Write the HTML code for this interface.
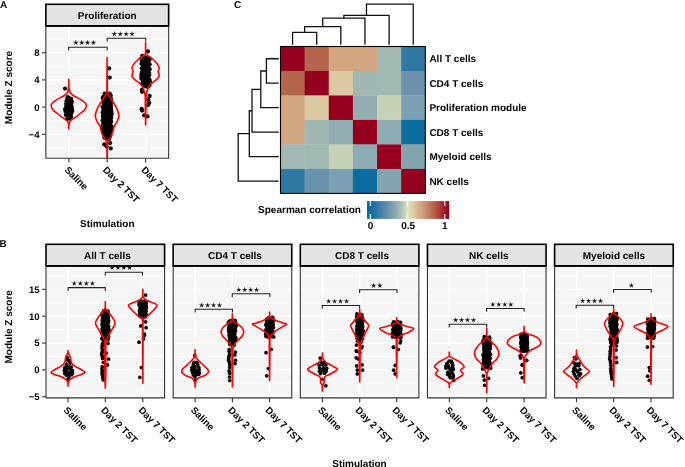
<!DOCTYPE html>
<html><head><meta charset="utf-8"><style>
html,body{margin:0;padding:0;background:#fff;width:685px;height:467px;overflow:hidden;}
svg{display:block;font-family:"Liberation Sans", sans-serif;will-change:transform;text-rendering:geometricPrecision;}
</style></head><body>
<svg width="685" height="467" viewBox="0 0 685 467" font-family='"Liberation Sans", sans-serif'>
<rect width="685" height="467" fill="#fff"/>
<text x="0" y="7.5" font-size="10" font-weight="bold" text-anchor="start" fill="#000">A</text>
<text x="-0.6" y="247" font-size="10" font-weight="bold" text-anchor="start" fill="#000">B</text>
<text x="234.1" y="7.6" font-size="10" font-weight="bold" text-anchor="start" fill="#000">C</text>
<rect x="45.85" y="25.9" width="122.8" height="132.4" fill="#F5F5F5"/>
<clipPath id="clipA"><rect x="45.85" y="25.9" width="122.8" height="132.4"/></clipPath>
<line x1="45.85" x2="168.65" y1="39.1" y2="39.1" stroke="#fff" stroke-width="0.6"/>
<line x1="45.85" x2="168.65" y1="66.3" y2="66.3" stroke="#fff" stroke-width="0.6"/>
<line x1="45.85" x2="168.65" y1="93.5" y2="93.5" stroke="#fff" stroke-width="0.6"/>
<line x1="45.85" x2="168.65" y1="120.7" y2="120.7" stroke="#fff" stroke-width="0.6"/>
<line x1="45.85" x2="168.65" y1="147.9" y2="147.9" stroke="#fff" stroke-width="0.6"/>
<line x1="45.85" x2="168.65" y1="52.7" y2="52.7" stroke="#fff" stroke-width="1.3"/>
<line x1="45.85" x2="168.65" y1="79.9" y2="79.9" stroke="#fff" stroke-width="1.3"/>
<line x1="45.85" x2="168.65" y1="107.1" y2="107.1" stroke="#fff" stroke-width="1.3"/>
<line x1="45.85" x2="168.65" y1="134.3" y2="134.3" stroke="#fff" stroke-width="1.3"/>
<line x1="68.9" x2="68.9" y1="25.9" y2="158.3" stroke="#fff" stroke-width="1.3"/>
<line x1="107.2" x2="107.2" y1="25.9" y2="158.3" stroke="#fff" stroke-width="1.3"/>
<line x1="145.6" x2="145.6" y1="25.9" y2="158.3" stroke="#fff" stroke-width="1.3"/>
<rect x="45.85" y="4.3" width="122.8" height="21.6" fill="#E3E3E3" stroke="#000" stroke-width="1.6"/>
<text x="107.25" y="18.75" font-size="10" font-weight="bold" text-anchor="middle" fill="#000">Proliferation</text>
<path d="M68.6,50.6 V47.3 H107.2 V50.6" fill="none" stroke="#222" stroke-width="1.1" clip-path="url(#clipA)"/>
<path d="M75.83,39.78 L76.41,41.87 L78.58,41.78 L76.78,42.99 L77.53,45.02 L75.83,43.68 L74.12,45.02 L74.87,42.99 L73.07,41.78 L75.24,41.87 Z M81.67,39.78 L82.26,41.87 L84.43,41.78 L82.63,42.99 L83.38,45.02 L81.67,43.68 L79.97,45.02 L80.72,42.99 L78.92,41.78 L81.09,41.87 Z M87.52,39.78 L88.11,41.87 L90.28,41.78 L88.48,42.99 L89.23,45.02 L87.52,43.68 L85.82,45.02 L86.57,42.99 L84.77,41.78 L86.94,41.87 Z M93.38,39.78 L93.96,41.87 L96.13,41.78 L94.33,42.99 L95.08,45.02 L93.38,43.68 L91.67,45.02 L92.42,42.99 L90.62,41.78 L92.79,41.87 Z" fill="#111" clip-path="url(#clipA)"/>
<path d="M107.2,41.6 V38.3 H145.7 V41.6" fill="none" stroke="#222" stroke-width="1.1" clip-path="url(#clipA)"/>
<path d="M114.33,31.18 L114.91,33.27 L117.08,33.18 L115.28,34.39 L116.03,36.42 L114.33,35.08 L112.62,36.42 L113.37,34.39 L111.57,33.18 L113.74,33.27 Z M120.24,31.18 L120.83,33.27 L123,33.18 L121.19,34.39 L121.95,36.42 L120.24,35.08 L118.54,36.42 L119.29,34.39 L117.48,33.18 L119.65,33.27 Z M126.16,31.18 L126.75,33.27 L128.92,33.18 L127.11,34.39 L127.86,36.42 L126.16,35.08 L124.45,36.42 L125.21,34.39 L123.4,33.18 L125.57,33.27 Z M132.07,31.18 L132.66,33.27 L134.83,33.18 L133.03,34.39 L133.78,36.42 L132.07,35.08 L130.37,36.42 L131.12,34.39 L129.32,33.18 L131.49,33.27 Z" fill="#111" clip-path="url(#clipA)"/>
<g fill="#000" clip-path="url(#clipA)">
<circle cx="66.23" cy="104.02" r="2.15"/>
<circle cx="65.58" cy="111.5" r="2.15"/>
<circle cx="67.7" cy="108.87" r="2.15"/>
<circle cx="68.82" cy="97.93" r="2.15"/>
<circle cx="71.47" cy="106.32" r="2.15"/>
<circle cx="67.32" cy="99.44" r="2.15"/>
<circle cx="72.25" cy="110.97" r="2.15"/>
<circle cx="67.23" cy="118.95" r="2.15"/>
<circle cx="67.68" cy="116.26" r="2.15"/>
<circle cx="71.09" cy="103.67" r="2.15"/>
<circle cx="69.34" cy="100.74" r="2.15"/>
<circle cx="67.83" cy="111.23" r="2.15"/>
<circle cx="65.23" cy="109.14" r="2.15"/>
<circle cx="70.01" cy="114.79" r="2.15"/>
<circle cx="71.86" cy="108.63" r="2.15"/>
<circle cx="67.35" cy="113.3" r="2.15"/>
<circle cx="68.21" cy="102.98" r="2.15"/>
<circle cx="69.31" cy="105.06" r="2.15"/>
<circle cx="69.53" cy="118.42" r="2.15"/>
<circle cx="69.76" cy="108.4" r="2.15"/>
<circle cx="66.53" cy="101.38" r="2.15"/>
<circle cx="66.21" cy="106.68" r="2.15"/>
<circle cx="71.14" cy="116.81" r="2.15"/>
<circle cx="71.86" cy="101.63" r="2.15"/>
<circle cx="71.45" cy="112.99" r="2.15"/>
<circle cx="70.15" cy="110.8" r="2.15"/>
<circle cx="71.13" cy="99" r="2.15"/>
<circle cx="66" cy="114.93" r="2.15"/>
<circle cx="65.1" cy="88.6" r="2.15"/>
<circle cx="67.6" cy="97.2" r="2.15"/>
</g>
<path d="M68.8,79.3 C68.75,80.82 68.83,86.07 68.53,88.4 C68.23,90.73 67.97,91.97 67,93.3 C66.03,94.63 64.33,95.38 62.7,96.4 C61.07,97.42 58.83,98.38 57.2,99.4 C55.57,100.42 53.92,101.48 52.9,102.5 C51.88,103.52 51.1,104.28 51.1,105.5 C51.1,106.72 51.78,108.38 52.9,109.8 C54.02,111.22 56.17,112.68 57.8,114 C59.43,115.32 61.17,116.57 62.7,117.7 C64.23,118.83 66.03,119.78 67,120.8 C67.97,121.82 68.23,122.48 68.53,123.8 C68.83,125.12 68.75,127.88 68.8,128.7 L68.8,128.7 C68.84,127.88 68.77,125.12 69.07,123.8 C69.37,122.48 69.63,121.82 70.6,120.8 C71.57,119.78 73.37,118.83 74.9,117.7 C76.43,116.57 78.17,115.32 79.8,114 C81.43,112.68 83.58,111.22 84.7,109.8 C85.82,108.38 86.5,106.72 86.5,105.5 C86.5,104.28 85.72,103.52 84.7,102.5 C83.68,101.48 82.03,100.42 80.4,99.4 C78.77,98.38 76.53,97.42 74.9,96.4 C73.27,95.38 71.57,94.63 70.6,93.3 C69.63,91.97 69.37,90.73 69.07,88.4 C68.77,86.07 68.84,80.82 68.8,79.3 Z" fill="none" stroke="#FF0000" stroke-width="1.6" stroke-linejoin="round" clip-path="url(#clipA)"/>
<g fill="#000" clip-path="url(#clipA)">
<circle cx="109" cy="121.1" r="2.15"/>
<circle cx="105.79" cy="136.24" r="2.15"/>
<circle cx="106.18" cy="124.07" r="2.15"/>
<circle cx="109.54" cy="133.67" r="2.15"/>
<circle cx="108" cy="127.74" r="2.15"/>
<circle cx="110.75" cy="104.9" r="2.15"/>
<circle cx="109.69" cy="137.08" r="2.15"/>
<circle cx="109.98" cy="108.39" r="2.15"/>
<circle cx="110.14" cy="123.89" r="2.15"/>
<circle cx="106.69" cy="129.49" r="2.15"/>
<circle cx="109.75" cy="110.98" r="2.15"/>
<circle cx="107.45" cy="122.78" r="2.15"/>
<circle cx="103.42" cy="132.75" r="2.15"/>
<circle cx="106.91" cy="93.61" r="2.15"/>
<circle cx="109.77" cy="97.43" r="2.15"/>
<circle cx="103.87" cy="103.24" r="2.15"/>
<circle cx="107.96" cy="111.67" r="2.15"/>
<circle cx="111.12" cy="118.16" r="2.15"/>
<circle cx="107.46" cy="116.09" r="2.15"/>
<circle cx="106.31" cy="114.02" r="2.15"/>
<circle cx="103.62" cy="124.39" r="2.15"/>
<circle cx="103.49" cy="109.08" r="2.15"/>
<circle cx="107.4" cy="97.21" r="2.15"/>
<circle cx="109.22" cy="101.35" r="2.15"/>
<circle cx="107.23" cy="108.27" r="2.15"/>
<circle cx="106.64" cy="126.06" r="2.15"/>
<circle cx="106.38" cy="110.83" r="2.15"/>
<circle cx="106.95" cy="103.18" r="2.15"/>
<circle cx="109.59" cy="93.54" r="2.15"/>
<circle cx="107.51" cy="106.11" r="2.15"/>
<circle cx="104.9" cy="95.91" r="2.15"/>
<circle cx="103" cy="116.53" r="2.15"/>
<circle cx="105.47" cy="100.94" r="2.15"/>
<circle cx="106.7" cy="134.16" r="2.15"/>
<circle cx="103.41" cy="122.48" r="2.15"/>
<circle cx="105.39" cy="117.96" r="2.15"/>
<circle cx="107.57" cy="132.69" r="2.15"/>
<circle cx="109.47" cy="126.86" r="2.15"/>
<circle cx="111.13" cy="131.64" r="2.15"/>
<circle cx="111.15" cy="109.69" r="2.15"/>
<circle cx="104.07" cy="127.67" r="2.15"/>
<circle cx="105.96" cy="98.64" r="2.15"/>
<circle cx="111.27" cy="115.43" r="2.15"/>
<circle cx="107.34" cy="118.71" r="2.15"/>
<circle cx="105.53" cy="120.94" r="2.15"/>
<circle cx="103.51" cy="130.64" r="2.15"/>
<circle cx="104.95" cy="116.21" r="2.15"/>
<circle cx="108.77" cy="129.48" r="2.15"/>
<circle cx="111.53" cy="129.55" r="2.15"/>
<circle cx="107.55" cy="136.62" r="2.15"/>
<circle cx="103.31" cy="114.27" r="2.15"/>
<circle cx="103.83" cy="118.62" r="2.15"/>
<circle cx="104.6" cy="93.66" r="2.15"/>
<circle cx="111.26" cy="101.28" r="2.15"/>
<circle cx="104.27" cy="105.51" r="2.15"/>
<circle cx="104.47" cy="134.83" r="2.15"/>
<circle cx="106.13" cy="138.15" r="2.15"/>
<circle cx="110.75" cy="103.07" r="2.15"/>
<circle cx="108.46" cy="99.65" r="2.15"/>
<circle cx="108.19" cy="124.44" r="2.15"/>
<circle cx="105.79" cy="107.27" r="2.15"/>
<circle cx="108.21" cy="138.4" r="2.15"/>
<circle cx="111.21" cy="121.63" r="2.15"/>
<circle cx="109.14" cy="114.1" r="2.15"/>
<circle cx="104.83" cy="111.7" r="2.15"/>
<circle cx="109.51" cy="116.46" r="2.15"/>
<circle cx="109.37" cy="118.92" r="2.15"/>
<circle cx="111.12" cy="99.1" r="2.15"/>
<circle cx="103.5" cy="101.2" r="2.15"/>
<circle cx="103.68" cy="98.68" r="2.15"/>
<circle cx="108.01" cy="94.95" r="2.15"/>
<circle cx="102.72" cy="112.17" r="2.15"/>
<circle cx="104.86" cy="131.67" r="2.15"/>
<circle cx="111.57" cy="126.35" r="2.15"/>
<circle cx="104.57" cy="125.82" r="2.15"/>
<circle cx="110.7" cy="95.76" r="2.15"/>
<circle cx="107.46" cy="101.4" r="2.15"/>
<circle cx="102.71" cy="120.14" r="2.15"/>
<circle cx="111.42" cy="111.72" r="2.15"/>
<circle cx="111.02" cy="106.93" r="2.15"/>
<circle cx="109.19" cy="131.25" r="2.15"/>
<circle cx="108.8" cy="104.13" r="2.15"/>
<circle cx="105" cy="129.7" r="2.15"/>
<circle cx="103.38" cy="96.96" r="2.15"/>
<circle cx="104.48" cy="137.72" r="2.15"/>
<circle cx="105.8" cy="104.72" r="2.15"/>
<circle cx="108.44" cy="135.07" r="2.15"/>
<circle cx="102.63" cy="106.74" r="2.15"/>
<circle cx="110.31" cy="135.4" r="2.15"/>
<circle cx="109.26" cy="106.59" r="2.15"/>
<circle cx="111.47" cy="113.61" r="2.15"/>
<circle cx="108.3" cy="109.93" r="2.15"/>
<circle cx="110.19" cy="128.45" r="2.15"/>
<circle cx="102.74" cy="129.04" r="2.15"/>
<circle cx="105.47" cy="108.96" r="2.15"/>
<circle cx="105.74" cy="128.04" r="2.15"/>
<circle cx="102.64" cy="125.82" r="2.15"/>
<circle cx="109.1" cy="68.4" r="2.15"/>
<circle cx="109.7" cy="77.6" r="2.15"/>
<circle cx="102.8" cy="98" r="2.15"/>
<circle cx="104.3" cy="144.3" r="2.15"/>
<circle cx="110" cy="143" r="2.15"/>
<circle cx="110.7" cy="148.4" r="2.15"/>
<circle cx="106.6" cy="146.5" r="2.15"/>
<circle cx="109" cy="139" r="2.15"/>
</g>
<path d="M107.1,57.6 C107.07,61.33 106.98,74.73 106.94,80 C106.91,85.27 106.94,87.08 106.88,89.2 C106.81,91.32 107.27,90.93 106.56,92.7 C105.85,94.47 104.06,97.3 102.6,99.8 C101.14,102.3 99.02,105.1 97.8,107.7 C96.58,110.3 95.4,113.03 95.3,115.4 C95.2,117.77 96.45,120.18 97.2,121.9 C97.95,123.62 99.15,124.22 99.8,125.7 C100.45,127.18 100.57,129.08 101.1,130.8 C101.63,132.52 102.25,134.5 103,136 C103.75,137.5 104.96,138.52 105.6,139.8 C106.24,141.08 106.61,142 106.83,143.7 C107.05,145.4 106.9,147.28 106.92,150 C106.94,152.72 106.96,158.33 106.96,160 L107.23,160 C107.24,158.33 107.26,152.72 107.28,150 C107.3,147.28 107.15,145.4 107.37,143.7 C107.59,142 107.96,141.08 108.6,139.8 C109.24,138.52 110.45,137.5 111.2,136 C111.95,134.5 112.57,132.52 113.1,130.8 C113.63,129.08 113.75,127.18 114.4,125.7 C115.05,124.22 116.25,123.62 117,121.9 C117.75,120.18 119,117.77 118.9,115.4 C118.8,113.03 117.62,110.3 116.4,107.7 C115.18,105.1 113.06,102.3 111.6,99.8 C110.14,97.3 108.35,94.47 107.64,92.7 C106.93,90.93 107.39,91.32 107.32,89.2 C107.26,87.08 107.29,85.27 107.26,80 C107.22,74.73 107.13,61.33 107.1,57.6 Z" fill="none" stroke="#FF0000" stroke-width="1.6" stroke-linejoin="round" clip-path="url(#clipA)"/>
<g fill="#000" clip-path="url(#clipA)">
<circle cx="141.91" cy="72.09" r="2.15"/>
<circle cx="148.38" cy="83.24" r="2.15"/>
<circle cx="148.05" cy="70.38" r="2.15"/>
<circle cx="148.12" cy="61.95" r="2.15"/>
<circle cx="147.56" cy="81.35" r="2.15"/>
<circle cx="144.14" cy="58.49" r="2.15"/>
<circle cx="148.42" cy="77.03" r="2.15"/>
<circle cx="143.12" cy="65.9" r="2.15"/>
<circle cx="146.01" cy="83.18" r="2.15"/>
<circle cx="145.75" cy="67.44" r="2.15"/>
<circle cx="145.2" cy="62.15" r="2.15"/>
<circle cx="141.81" cy="68.3" r="2.15"/>
<circle cx="144.13" cy="83.6" r="2.15"/>
<circle cx="149.39" cy="79.55" r="2.15"/>
<circle cx="144.34" cy="68.73" r="2.15"/>
<circle cx="146.83" cy="73.23" r="2.15"/>
<circle cx="142.97" cy="81.94" r="2.15"/>
<circle cx="149.64" cy="64.3" r="2.15"/>
<circle cx="148.6" cy="67.5" r="2.15"/>
<circle cx="145.54" cy="81.16" r="2.15"/>
<circle cx="143.51" cy="85.58" r="2.15"/>
<circle cx="144.72" cy="79.12" r="2.15"/>
<circle cx="147.98" cy="58.52" r="2.15"/>
<circle cx="149.03" cy="72.44" r="2.15"/>
<circle cx="146.03" cy="86.41" r="2.15"/>
<circle cx="143.24" cy="75.25" r="2.15"/>
<circle cx="149.86" cy="81.56" r="2.15"/>
<circle cx="146.89" cy="65.11" r="2.15"/>
<circle cx="145.57" cy="76.54" r="2.15"/>
<circle cx="144.45" cy="72.75" r="2.15"/>
<circle cx="143.16" cy="62.27" r="2.15"/>
<circle cx="141.84" cy="60.32" r="2.15"/>
<circle cx="145.57" cy="59.8" r="2.15"/>
<circle cx="147.94" cy="86.79" r="2.15"/>
<circle cx="149.46" cy="60.02" r="2.15"/>
<circle cx="146.17" cy="69.8" r="2.15"/>
<circle cx="141.57" cy="63.7" r="2.15"/>
<circle cx="143.32" cy="77.22" r="2.15"/>
<circle cx="141.49" cy="78.8" r="2.15"/>
<circle cx="144.34" cy="64.36" r="2.15"/>
<circle cx="144.04" cy="70.82" r="2.15"/>
<circle cx="149.31" cy="75.02" r="2.15"/>
<circle cx="147.37" cy="75.36" r="2.15"/>
<circle cx="142.21" cy="83.71" r="2.15"/>
<circle cx="147.07" cy="78.99" r="2.15"/>
<circle cx="149.6" cy="69.2" r="2.15"/>
<circle cx="142.16" cy="58.4" r="2.15"/>
<circle cx="141.4" cy="76.68" r="2.15"/>
<circle cx="141.51" cy="74.06" r="2.15"/>
<circle cx="145.84" cy="57.57" r="2.15"/>
<circle cx="145.26" cy="74.5" r="2.15"/>
<circle cx="147.8" cy="51.5" r="2.15"/>
<circle cx="142.3" cy="55.8" r="2.15"/>
<circle cx="142.1" cy="89.6" r="2.15"/>
<circle cx="142.1" cy="91.8" r="2.15"/>
<circle cx="149.6" cy="96" r="2.15"/>
<circle cx="149.1" cy="103" r="2.15"/>
<circle cx="148" cy="105.1" r="2.15"/>
<circle cx="142.1" cy="110.5" r="2.15"/>
<circle cx="141.6" cy="108.9" r="2.15"/>
<circle cx="147.5" cy="116.4" r="2.15"/>
<circle cx="144.3" cy="115.3" r="2.15"/>
<circle cx="149.3" cy="85.3" r="2.15"/>
<circle cx="148.2" cy="99.5" r="2.15"/>
</g>
<path d="M145.6,42.5 C145.58,44.35 145.78,51.45 145.47,53.6 C145.15,55.75 144.81,54.5 143.7,55.4 C142.59,56.3 140.37,57.65 138.8,59 C137.23,60.35 135.43,62.07 134.3,63.5 C133.17,64.93 132.22,66.25 132,67.6 C131.78,68.95 133,70.18 133,71.6 C133,73.02 131.7,74.75 132,76.1 C132.3,77.45 133.52,78.5 134.8,79.7 C136.08,80.9 138.35,82.1 139.7,83.3 C141.05,84.5 142.23,85.85 142.9,86.9 C143.57,87.95 143.32,88.08 143.7,89.6 C144.08,91.12 144.92,92.6 145.19,96 C145.47,99.4 145.26,105.18 145.33,110 C145.4,114.82 145.56,122.42 145.6,124.9 L145.6,124.9 C145.64,122.42 145.8,114.82 145.87,110 C145.94,105.18 145.73,99.4 146,96 C146.28,92.6 147.12,91.12 147.5,89.6 C147.88,88.08 147.63,87.95 148.3,86.9 C148.97,85.85 150.15,84.5 151.5,83.3 C152.85,82.1 155.12,80.9 156.4,79.7 C157.68,78.5 158.9,77.45 159.2,76.1 C159.5,74.75 158.2,73.02 158.2,71.6 C158.2,70.18 159.42,68.95 159.2,67.6 C158.98,66.25 158.03,64.93 156.9,63.5 C155.77,62.07 153.97,60.35 152.4,59 C150.83,57.65 148.61,56.3 147.5,55.4 C146.39,54.5 146.05,55.75 145.73,53.6 C145.42,51.45 145.62,44.35 145.6,42.5 Z" fill="none" stroke="#FF0000" stroke-width="1.6" stroke-linejoin="round" clip-path="url(#clipA)"/>
<path d="M45.85,25.9 V158.3 H168.65 V25.9" fill="none" stroke="#333" stroke-width="1.1"/>
<line x1="45.85" x2="168.65" y1="25.9" y2="25.9" stroke="#000" stroke-width="1.6"/>
<line x1="41.95" x2="45.85" y1="52.7" y2="52.7" stroke="#333" stroke-width="1.1"/>
<text x="39.55" y="56.1" font-size="9.6" font-weight="bold" text-anchor="end" fill="#000">8</text>
<line x1="41.95" x2="45.85" y1="79.9" y2="79.9" stroke="#333" stroke-width="1.1"/>
<text x="39.55" y="83.3" font-size="9.6" font-weight="bold" text-anchor="end" fill="#000">4</text>
<line x1="41.95" x2="45.85" y1="107.1" y2="107.1" stroke="#333" stroke-width="1.1"/>
<text x="39.55" y="110.5" font-size="9.6" font-weight="bold" text-anchor="end" fill="#000">0</text>
<line x1="41.95" x2="45.85" y1="134.3" y2="134.3" stroke="#333" stroke-width="1.1"/>
<text x="39.55" y="137.7" font-size="9.6" font-weight="bold" text-anchor="end" fill="#000">&#8722;4</text>
<line x1="68.9" x2="68.9" y1="158.3" y2="162.6" stroke="#333" stroke-width="1.1"/>
<text transform="translate(64,170.4) rotate(45)" font-size="9.7" font-weight="bold" fill="#000">Saline</text>
<line x1="107.2" x2="107.2" y1="158.3" y2="162.6" stroke="#333" stroke-width="1.1"/>
<text transform="translate(102.3,170.4) rotate(45)" font-size="9.7" font-weight="bold" fill="#000">Day 2 TST</text>
<line x1="145.6" x2="145.6" y1="158.3" y2="162.6" stroke="#333" stroke-width="1.1"/>
<text transform="translate(140.7,170.4) rotate(45)" font-size="9.7" font-weight="bold" fill="#000">Day 7 TST</text>
<text x="107.3" y="226.6" font-size="10" font-weight="bold" text-anchor="middle" fill="#000">Stimulation</text>
<text transform="translate(11.7,87.5) rotate(-90)" font-size="10" font-weight="bold" text-anchor="middle" fill="#000">Module Z score</text>
<rect x="280.5" y="46.5" width="24.43" height="24.78" fill="#95001F"/>
<rect x="304.63" y="46.5" width="24.43" height="24.78" fill="#B5654C"/>
<rect x="328.77" y="46.5" width="24.43" height="24.78" fill="#D2A681"/>
<rect x="352.9" y="46.5" width="24.43" height="24.78" fill="#D2A681"/>
<rect x="377.03" y="46.5" width="24.43" height="24.78" fill="#A2B8B3"/>
<rect x="401.17" y="46.5" width="24.43" height="24.78" fill="#2F78A3"/>
<rect x="280.5" y="70.98" width="24.43" height="24.78" fill="#B5654C"/>
<rect x="304.63" y="70.98" width="24.43" height="24.78" fill="#95001F"/>
<rect x="328.77" y="70.98" width="24.43" height="24.78" fill="#DCC9A2"/>
<rect x="352.9" y="70.98" width="24.43" height="24.78" fill="#A1B7B3"/>
<rect x="377.03" y="70.98" width="24.43" height="24.78" fill="#A2B8B3"/>
<rect x="401.17" y="70.98" width="24.43" height="24.78" fill="#6A92AD"/>
<rect x="280.5" y="95.47" width="24.43" height="24.78" fill="#D2A681"/>
<rect x="304.63" y="95.47" width="24.43" height="24.78" fill="#DCC9A2"/>
<rect x="328.77" y="95.47" width="24.43" height="24.78" fill="#95001F"/>
<rect x="352.9" y="95.47" width="24.43" height="24.78" fill="#93AEB3"/>
<rect x="377.03" y="95.47" width="24.43" height="24.78" fill="#C7D1B6"/>
<rect x="401.17" y="95.47" width="24.43" height="24.78" fill="#7B9FB2"/>
<rect x="280.5" y="119.95" width="24.43" height="24.78" fill="#D2A681"/>
<rect x="304.63" y="119.95" width="24.43" height="24.78" fill="#A1B7B3"/>
<rect x="328.77" y="119.95" width="24.43" height="24.78" fill="#93AEB3"/>
<rect x="352.9" y="119.95" width="24.43" height="24.78" fill="#95001F"/>
<rect x="377.03" y="119.95" width="24.43" height="24.78" fill="#8DABB2"/>
<rect x="401.17" y="119.95" width="24.43" height="24.78" fill="#0E6D9F"/>
<rect x="280.5" y="144.43" width="24.43" height="24.78" fill="#A2B8B3"/>
<rect x="304.63" y="144.43" width="24.43" height="24.78" fill="#A2B8B3"/>
<rect x="328.77" y="144.43" width="24.43" height="24.78" fill="#C7D1B6"/>
<rect x="352.9" y="144.43" width="24.43" height="24.78" fill="#8DABB2"/>
<rect x="377.03" y="144.43" width="24.43" height="24.78" fill="#95001F"/>
<rect x="401.17" y="144.43" width="24.43" height="24.78" fill="#82A4AE"/>
<rect x="280.5" y="168.92" width="24.43" height="24.78" fill="#2F78A3"/>
<rect x="304.63" y="168.92" width="24.43" height="24.78" fill="#6A92AD"/>
<rect x="328.77" y="168.92" width="24.43" height="24.78" fill="#7B9FB2"/>
<rect x="352.9" y="168.92" width="24.43" height="24.78" fill="#0E6D9F"/>
<rect x="377.03" y="168.92" width="24.43" height="24.78" fill="#82A4AE"/>
<rect x="401.17" y="168.92" width="24.43" height="24.78" fill="#95001F"/>
<rect x="280.5" y="46.5" width="144.8" height="146.9" fill="none" stroke="#000" stroke-width="1.1"/>
<path d="M292.57,44.8 V32.4 H316.7 V44.8" fill="none" stroke="#111" stroke-width="1.3"/>
<path d="M304.63,32.4 V26.7 H340.83 V44.8" fill="none" stroke="#111" stroke-width="1.3"/>
<path d="M322.73,26.7 V18.2 H364.97 V44.8" fill="none" stroke="#111" stroke-width="1.3"/>
<path d="M343.85,18.2 V15.3 H389.1 V44.8" fill="none" stroke="#111" stroke-width="1.3"/>
<path d="M366.48,15.3 V4.2 H413.23 V44.8" fill="none" stroke="#111" stroke-width="1.3"/>
<path d="M278.8,58.74 H266.4 V83.22 H278.8" fill="none" stroke="#111" stroke-width="1.3"/>
<path d="M266.4,70.98 H260.8 V107.71 H278.8" fill="none" stroke="#111" stroke-width="1.3"/>
<path d="M260.8,89.35 H252 V132.19 H278.8" fill="none" stroke="#111" stroke-width="1.3"/>
<path d="M252,110.77 H249.3 V156.68 H278.8" fill="none" stroke="#111" stroke-width="1.3"/>
<path d="M249.3,133.72 H238.2 V181.16 H278.8" fill="none" stroke="#111" stroke-width="1.3"/>
<text x="429.4" y="62.24" font-size="10" font-weight="bold" text-anchor="start" fill="#000">All T cells</text>
<text x="429.4" y="86.72" font-size="10" font-weight="bold" text-anchor="start" fill="#000">CD4 T cells</text>
<text x="429.4" y="111.21" font-size="10" font-weight="bold" text-anchor="start" fill="#000">Proliferation module</text>
<text x="429.4" y="135.69" font-size="10" font-weight="bold" text-anchor="start" fill="#000">CD8 T cells</text>
<text x="429.4" y="160.18" font-size="10" font-weight="bold" text-anchor="start" fill="#000">Myeloid cells</text>
<text x="429.4" y="184.66" font-size="10" font-weight="bold" text-anchor="start" fill="#000">NK cells</text>
<text x="258.1" y="213.3" font-size="10" font-weight="bold" text-anchor="start" fill="#000">Spearman correlation</text>
<defs><linearGradient id="cb" x1="0" x2="1" y1="0" y2="0"><stop offset="0" stop-color="#0B6CA0"/><stop offset="0.04" stop-color="#0B6CA0"/><stop offset="0.15" stop-color="#3F7DA8"/><stop offset="0.27" stop-color="#6A95AD"/><stop offset="0.38" stop-color="#97B2B3"/><stop offset="0.48" stop-color="#D2DCBE"/><stop offset="0.5" stop-color="#E0E5C2"/><stop offset="0.58" stop-color="#DCC39C"/><stop offset="0.66" stop-color="#D2A282"/><stop offset="0.76" stop-color="#C07A61"/><stop offset="0.86" stop-color="#AE4C3E"/><stop offset="0.95" stop-color="#9C1424"/><stop offset="1" stop-color="#990020"/></linearGradient></defs>
<rect x="367" y="201.1" width="82.2" height="17.8" fill="url(#cb)"/>
<line x1="370.3" x2="370.3" y1="201.1" y2="206" stroke="#fff" stroke-width="1.1"/>
<line x1="370.3" x2="370.3" y1="214" y2="218.9" stroke="#fff" stroke-width="1.1"/>
<line x1="407.6" x2="407.6" y1="201.1" y2="206" stroke="#fff" stroke-width="1.1"/>
<line x1="407.6" x2="407.6" y1="214" y2="218.9" stroke="#fff" stroke-width="1.1"/>
<line x1="444.8" x2="444.8" y1="201.1" y2="206" stroke="#fff" stroke-width="1.1"/>
<line x1="444.8" x2="444.8" y1="214" y2="218.9" stroke="#fff" stroke-width="1.1"/>
<text x="370.5" y="229" font-size="10" font-weight="bold" text-anchor="middle" fill="#000">0</text>
<text x="408.2" y="229" font-size="10" font-weight="bold" text-anchor="middle" fill="#000">0.5</text>
<text x="444.7" y="229" font-size="10" font-weight="bold" text-anchor="middle" fill="#000">1</text>
<rect x="46" y="265.9" width="118.6" height="132" fill="#F5F5F5"/>
<clipPath id="clipB0"><rect x="46" y="265.9" width="118.6" height="132"/></clipPath>
<line x1="46" x2="164.6" y1="275.92" y2="275.92" stroke="#fff" stroke-width="0.6"/>
<line x1="46" x2="164.6" y1="302.77" y2="302.77" stroke="#fff" stroke-width="0.6"/>
<line x1="46" x2="164.6" y1="329.62" y2="329.62" stroke="#fff" stroke-width="0.6"/>
<line x1="46" x2="164.6" y1="356.47" y2="356.47" stroke="#fff" stroke-width="0.6"/>
<line x1="46" x2="164.6" y1="383.32" y2="383.32" stroke="#fff" stroke-width="0.6"/>
<line x1="46" x2="164.6" y1="289.35" y2="289.35" stroke="#fff" stroke-width="1.3"/>
<line x1="46" x2="164.6" y1="316.2" y2="316.2" stroke="#fff" stroke-width="1.3"/>
<line x1="46" x2="164.6" y1="343.05" y2="343.05" stroke="#fff" stroke-width="1.3"/>
<line x1="46" x2="164.6" y1="369.9" y2="369.9" stroke="#fff" stroke-width="1.3"/>
<line x1="46" x2="164.6" y1="396.75" y2="396.75" stroke="#fff" stroke-width="1.3"/>
<line x1="68" x2="68" y1="265.9" y2="397.9" stroke="#fff" stroke-width="1.3"/>
<line x1="105.3" x2="105.3" y1="265.9" y2="397.9" stroke="#fff" stroke-width="1.3"/>
<line x1="142.8" x2="142.8" y1="265.9" y2="397.9" stroke="#fff" stroke-width="1.3"/>
<rect x="46" y="244.3" width="118.6" height="21.6" fill="#E3E3E3" stroke="#000" stroke-width="1.6"/>
<text x="107.4" y="258.75" font-size="10" font-weight="bold" text-anchor="middle" fill="#000">All T cells</text>
<path d="M68.1,290.9 V287.6 H105.3 V290.9" fill="none" stroke="#222" stroke-width="1.1" clip-path="url(#clipB0)"/>
<path d="M74.22,280.58 L74.81,282.67 L76.98,282.58 L75.18,283.79 L75.93,285.82 L74.22,284.48 L72.52,285.82 L73.27,283.79 L71.47,282.58 L73.64,282.67 Z M80.27,280.58 L80.86,282.67 L83.03,282.58 L81.23,283.79 L81.98,285.82 L80.27,284.48 L78.57,285.82 L79.32,283.79 L77.52,282.58 L79.69,282.67 Z M86.32,280.58 L86.91,282.67 L89.08,282.58 L87.28,283.79 L88.03,285.82 L86.32,284.48 L84.62,285.82 L85.37,283.79 L83.57,282.58 L85.74,282.67 Z M92.38,280.58 L92.96,282.67 L95.13,282.58 L93.33,283.79 L94.08,285.82 L92.38,284.48 L90.67,285.82 L91.42,283.79 L89.62,282.58 L91.79,282.67 Z" fill="#111" clip-path="url(#clipB0)"/>
<path d="M105.3,275.5 V272.2 H142.5 V275.5" fill="none" stroke="#222" stroke-width="1.1" clip-path="url(#clipB0)"/>
<path d="M112.12,264.88 L112.71,266.97 L114.88,266.88 L113.08,268.09 L113.83,270.12 L112.12,268.78 L110.42,270.12 L111.17,268.09 L109.37,266.88 L111.54,266.97 Z M117.94,264.88 L118.53,266.97 L120.7,266.88 L118.89,268.09 L119.65,270.12 L117.94,268.78 L116.24,270.12 L116.99,268.09 L115.18,266.88 L117.35,266.97 Z M123.76,264.88 L124.35,266.97 L126.52,266.88 L124.71,268.09 L125.46,270.12 L123.76,268.78 L122.05,270.12 L122.81,268.09 L121,266.88 L123.17,266.97 Z M129.57,264.88 L130.16,266.97 L132.33,266.88 L130.53,268.09 L131.28,270.12 L129.57,268.78 L127.87,270.12 L128.62,268.09 L126.82,266.88 L128.99,266.97 Z" fill="#111" clip-path="url(#clipB0)"/>
<g fill="#000" clip-path="url(#clipB0)">
<circle cx="67.6" cy="357.3" r="1.85"/>
<circle cx="67.3" cy="359.8" r="1.85"/>
<circle cx="69.5" cy="360.9" r="1.85"/>
<circle cx="70.2" cy="363.1" r="1.85"/>
<circle cx="66.5" cy="364.2" r="1.85"/>
<circle cx="66.2" cy="366.4" r="1.85"/>
<circle cx="64.7" cy="367.8" r="1.85"/>
<circle cx="68.7" cy="366.7" r="1.85"/>
<circle cx="71.3" cy="367.1" r="1.85"/>
<circle cx="64.4" cy="370.4" r="1.85"/>
<circle cx="66.9" cy="369.6" r="1.85"/>
<circle cx="70.9" cy="369.6" r="1.85"/>
<circle cx="72.4" cy="370.7" r="1.85"/>
<circle cx="64.7" cy="373.3" r="1.85"/>
<circle cx="67.6" cy="372.5" r="1.85"/>
<circle cx="70.5" cy="372.5" r="1.85"/>
<circle cx="72.4" cy="373.3" r="1.85"/>
<circle cx="66.2" cy="375.1" r="1.85"/>
<circle cx="69.5" cy="375.1" r="1.85"/>
<circle cx="71.6" cy="374.7" r="1.85"/>
<circle cx="68.7" cy="377.6" r="1.85"/>
<circle cx="68" cy="379.1" r="1.85"/>
<circle cx="66" cy="371.5" r="1.85"/>
<circle cx="69" cy="368" r="1.85"/>
</g>
<path d="M68,350.6 C67.92,351.07 67.87,352.38 67.5,353.4 C67.14,354.42 66.27,355.22 65.8,356.7 C65.33,358.18 65.45,360.72 64.7,362.3 C63.95,363.88 62.78,365.08 61.3,366.2 C59.82,367.32 57.5,367.98 55.8,369 C54.1,370.02 51.3,371.38 51.1,372.3 C50.9,373.22 52.9,373.77 54.6,374.5 C56.3,375.23 59.43,375.87 61.3,376.7 C63.17,377.53 64.73,378.57 65.8,379.5 C66.87,380.43 67.36,381.18 67.73,382.3 C68.1,383.42 67.95,385.55 68,386.2 L68,386.2 C68.05,385.55 67.9,383.42 68.27,382.3 C68.64,381.18 69.13,380.43 70.2,379.5 C71.27,378.57 72.83,377.53 74.7,376.7 C76.57,375.87 79.7,375.23 81.4,374.5 C83.1,373.77 85.1,373.22 84.9,372.3 C84.7,371.38 81.9,370.02 80.2,369 C78.5,367.98 76.18,367.32 74.7,366.2 C73.22,365.08 72.05,363.88 71.3,362.3 C70.55,360.72 70.67,358.18 70.2,356.7 C69.73,355.22 68.86,354.42 68.5,353.4 C68.13,352.38 68.08,351.07 68,350.6 Z" fill="none" stroke="#FF0000" stroke-width="1.6" stroke-linejoin="round" clip-path="url(#clipB0)"/>
<g fill="#000" clip-path="url(#clipB0)">
<circle cx="103.57" cy="310.74" r="1.85"/>
<circle cx="104.72" cy="310.23" r="1.85"/>
<circle cx="107.91" cy="311" r="1.85"/>
<circle cx="102.24" cy="313.01" r="1.85"/>
<circle cx="103.96" cy="312.79" r="1.85"/>
<circle cx="106.21" cy="311.86" r="1.85"/>
<circle cx="108.05" cy="312.55" r="1.85"/>
<circle cx="101.78" cy="314.64" r="1.85"/>
<circle cx="104.68" cy="314.61" r="1.85"/>
<circle cx="106.76" cy="314.43" r="1.85"/>
<circle cx="107.95" cy="314.04" r="1.85"/>
<circle cx="102.4" cy="315.59" r="1.85"/>
<circle cx="103.9" cy="315.87" r="1.85"/>
<circle cx="106.62" cy="316.09" r="1.85"/>
<circle cx="108.09" cy="315.93" r="1.85"/>
<circle cx="102.93" cy="318.11" r="1.85"/>
<circle cx="104.17" cy="317.05" r="1.85"/>
<circle cx="106.41" cy="318.04" r="1.85"/>
<circle cx="107.98" cy="317.62" r="1.85"/>
<circle cx="102.57" cy="318.94" r="1.85"/>
<circle cx="104.06" cy="318.98" r="1.85"/>
<circle cx="105.83" cy="318.69" r="1.85"/>
<circle cx="108.06" cy="318.66" r="1.85"/>
<circle cx="102.37" cy="320.4" r="1.85"/>
<circle cx="104.42" cy="320.82" r="1.85"/>
<circle cx="106.47" cy="321.18" r="1.85"/>
<circle cx="108.65" cy="320.62" r="1.85"/>
<circle cx="102.44" cy="322.51" r="1.85"/>
<circle cx="104.21" cy="323" r="1.85"/>
<circle cx="106.47" cy="322.18" r="1.85"/>
<circle cx="108.41" cy="322.77" r="1.85"/>
<circle cx="102.03" cy="324.71" r="1.85"/>
<circle cx="104.68" cy="324.18" r="1.85"/>
<circle cx="106.17" cy="324" r="1.85"/>
<circle cx="107.5" cy="323.92" r="1.85"/>
<circle cx="102.8" cy="326.41" r="1.85"/>
<circle cx="104.74" cy="325.93" r="1.85"/>
<circle cx="106.75" cy="325.53" r="1.85"/>
<circle cx="108.62" cy="326.47" r="1.85"/>
<circle cx="102.8" cy="327.94" r="1.85"/>
<circle cx="104.01" cy="328.23" r="1.85"/>
<circle cx="106.51" cy="327.27" r="1.85"/>
<circle cx="107.76" cy="327.29" r="1.85"/>
<circle cx="101.99" cy="328.96" r="1.85"/>
<circle cx="103.95" cy="329.29" r="1.85"/>
<circle cx="106.95" cy="330.02" r="1.85"/>
<circle cx="108.95" cy="329.4" r="1.85"/>
<circle cx="102.59" cy="330.87" r="1.85"/>
<circle cx="104.07" cy="331.28" r="1.85"/>
<circle cx="106.69" cy="331.58" r="1.85"/>
<circle cx="108.93" cy="331.72" r="1.85"/>
<circle cx="101.91" cy="332.47" r="1.85"/>
<circle cx="104.12" cy="332.36" r="1.85"/>
<circle cx="106.93" cy="333.41" r="1.85"/>
<circle cx="108.01" cy="332.82" r="1.85"/>
<circle cx="102.38" cy="334.74" r="1.85"/>
<circle cx="104.47" cy="334.19" r="1.85"/>
<circle cx="106.36" cy="335.08" r="1.85"/>
<circle cx="108.43" cy="334.52" r="1.85"/>
<circle cx="102.77" cy="335.96" r="1.85"/>
<circle cx="104.36" cy="336.75" r="1.85"/>
<circle cx="105.77" cy="336.57" r="1.85"/>
<circle cx="108.53" cy="336.54" r="1.85"/>
<circle cx="101.91" cy="338.38" r="1.85"/>
<circle cx="104.16" cy="338.03" r="1.85"/>
<circle cx="105.96" cy="338.09" r="1.85"/>
<circle cx="108.33" cy="337.68" r="1.85"/>
<circle cx="103.02" cy="340.05" r="1.85"/>
<circle cx="104.06" cy="340.18" r="1.85"/>
<circle cx="106.5" cy="339.3" r="1.85"/>
<circle cx="107.87" cy="339.95" r="1.85"/>
<circle cx="102.6" cy="343.5" r="1.85"/>
<circle cx="102.2" cy="345.6" r="1.85"/>
<circle cx="102" cy="347.8" r="1.85"/>
<circle cx="102.4" cy="350" r="1.85"/>
<circle cx="102.1" cy="352.2" r="1.85"/>
<circle cx="101.8" cy="354.4" r="1.85"/>
<circle cx="102.3" cy="356.6" r="1.85"/>
<circle cx="102.6" cy="358.6" r="1.85"/>
<circle cx="103.4" cy="362.5" r="1.85"/>
<circle cx="102.2" cy="366.8" r="1.85"/>
<circle cx="102" cy="369" r="1.85"/>
<circle cx="102.3" cy="371.2" r="1.85"/>
<circle cx="102.1" cy="373.4" r="1.85"/>
<circle cx="102.5" cy="375.6" r="1.85"/>
<circle cx="102.8" cy="377.8" r="1.85"/>
<circle cx="103.3" cy="380" r="1.85"/>
<circle cx="108" cy="343.5" r="1.85"/>
<circle cx="106.4" cy="353" r="1.85"/>
<circle cx="108.5" cy="359" r="1.85"/>
<circle cx="107.4" cy="364.9" r="1.85"/>
</g>
<path d="M105.3,301.6 C105.28,302.63 105.51,306.23 105.16,307.8 C104.81,309.37 104.24,309.57 103.2,311 C102.16,312.43 100.18,314.43 98.9,316.4 C97.62,318.37 95.68,320.83 95.5,322.8 C95.32,324.77 96.88,326.42 97.8,328.2 C98.72,329.98 100.02,331.72 101,333.5 C101.98,335.28 103.07,337.3 103.7,338.9 C104.33,340.5 104.63,339.58 104.8,343.1 C104.98,346.62 104.75,354.68 104.76,360 C104.77,365.32 104.76,370.28 104.85,375 C104.94,379.72 105.22,386.08 105.3,388.3 L105.3,388.3 C105.38,386.08 105.66,379.72 105.75,375 C105.84,370.28 105.83,365.32 105.84,360 C105.85,354.68 105.62,346.62 105.8,343.1 C105.97,339.58 106.27,340.5 106.9,338.9 C107.53,337.3 108.62,335.28 109.6,333.5 C110.58,331.72 111.88,329.98 112.8,328.2 C113.72,326.42 115.28,324.77 115.1,322.8 C114.92,320.83 112.98,318.37 111.7,316.4 C110.42,314.43 108.44,312.43 107.4,311 C106.36,309.57 105.78,309.37 105.44,307.8 C105.09,306.23 105.32,302.63 105.3,301.6 Z" fill="none" stroke="#FF0000" stroke-width="1.6" stroke-linejoin="round" clip-path="url(#clipB0)"/>
<g fill="#000" clip-path="url(#clipB0)">
<circle cx="139.61" cy="301" r="1.85"/>
<circle cx="141.77" cy="301.17" r="1.85"/>
<circle cx="143.53" cy="301.6" r="1.85"/>
<circle cx="145.44" cy="301.79" r="1.85"/>
<circle cx="139.08" cy="302.79" r="1.85"/>
<circle cx="142" cy="302.88" r="1.85"/>
<circle cx="144.1" cy="302.9" r="1.85"/>
<circle cx="146.37" cy="302.54" r="1.85"/>
<circle cx="139.11" cy="304.95" r="1.85"/>
<circle cx="141.37" cy="305.25" r="1.85"/>
<circle cx="144.2" cy="305.07" r="1.85"/>
<circle cx="145.91" cy="304.82" r="1.85"/>
<circle cx="139.84" cy="306.01" r="1.85"/>
<circle cx="141.6" cy="306.59" r="1.85"/>
<circle cx="144.05" cy="306.16" r="1.85"/>
<circle cx="146.24" cy="306.45" r="1.85"/>
<circle cx="140.26" cy="308.49" r="1.85"/>
<circle cx="141.76" cy="308.36" r="1.85"/>
<circle cx="144.39" cy="308.28" r="1.85"/>
<circle cx="146.43" cy="307.98" r="1.85"/>
<circle cx="139.55" cy="310.2" r="1.85"/>
<circle cx="141.15" cy="309.89" r="1.85"/>
<circle cx="143.95" cy="310.22" r="1.85"/>
<circle cx="145.49" cy="310.29" r="1.85"/>
<circle cx="139.77" cy="311.59" r="1.85"/>
<circle cx="141.86" cy="312.05" r="1.85"/>
<circle cx="143.98" cy="311.23" r="1.85"/>
<circle cx="145.99" cy="311.21" r="1.85"/>
<circle cx="139.96" cy="313.79" r="1.85"/>
<circle cx="141.55" cy="312.76" r="1.85"/>
<circle cx="143.79" cy="312.74" r="1.85"/>
<circle cx="145.18" cy="312.94" r="1.85"/>
<circle cx="139.9" cy="315.14" r="1.85"/>
<circle cx="141.21" cy="314.36" r="1.85"/>
<circle cx="143.96" cy="315.37" r="1.85"/>
<circle cx="146.4" cy="314.78" r="1.85"/>
<circle cx="140.24" cy="316.32" r="1.85"/>
<circle cx="141.87" cy="317.25" r="1.85"/>
<circle cx="144.17" cy="316.85" r="1.85"/>
<circle cx="145.46" cy="316.74" r="1.85"/>
<circle cx="145.6" cy="295.1" r="1.85"/>
<circle cx="145.6" cy="321.8" r="1.85"/>
<circle cx="140.8" cy="325.9" r="1.85"/>
<circle cx="146.1" cy="327.7" r="1.85"/>
<circle cx="144.4" cy="334.2" r="1.85"/>
<circle cx="144.3" cy="335.6" r="1.85"/>
<circle cx="143.6" cy="339" r="1.85"/>
<circle cx="139" cy="342.2" r="1.85"/>
<circle cx="141.5" cy="367.6" r="1.85"/>
<circle cx="139.8" cy="377.3" r="1.85"/>
</g>
<path d="M142.8,289.2 C142.78,290.42 143.2,294.7 142.67,296.5 C142.13,298.3 141.09,299.02 139.6,300 C138.11,300.98 135.57,301.52 133.7,302.4 C131.83,303.28 128.78,304.13 128.4,305.3 C128.02,306.47 130.12,307.92 131.4,309.4 C132.68,310.88 134.63,312.82 136.1,314.2 C137.57,315.58 139.14,316.63 140.2,317.7 C141.26,318.77 142.05,316.88 142.44,320.6 C142.83,324.32 142.47,329.52 142.53,340 C142.59,350.48 142.75,376.25 142.8,383.5 L142.8,383.5 C142.85,376.25 143.01,350.48 143.07,340 C143.13,329.52 142.77,324.32 143.16,320.6 C143.55,316.88 144.34,318.77 145.4,317.7 C146.46,316.63 148.03,315.58 149.5,314.2 C150.97,312.82 152.92,310.88 154.2,309.4 C155.48,307.92 157.58,306.47 157.2,305.3 C156.82,304.13 153.77,303.28 151.9,302.4 C150.03,301.52 147.49,300.98 146,300 C144.51,299.02 143.47,298.3 142.94,296.5 C142.4,294.7 142.82,290.42 142.8,289.2 Z" fill="none" stroke="#FF0000" stroke-width="1.6" stroke-linejoin="round" clip-path="url(#clipB0)"/>
<path d="M46,265.9 V397.9 H164.6 V265.9" fill="none" stroke="#333" stroke-width="1.1"/>
<line x1="46" x2="164.6" y1="265.9" y2="265.9" stroke="#000" stroke-width="1.6"/>
<line x1="68" x2="68" y1="397.9" y2="402.2" stroke="#333" stroke-width="1.1"/>
<text transform="translate(63.1,410.8) rotate(45)" font-size="9.7" font-weight="bold" fill="#000">Saline</text>
<line x1="105.3" x2="105.3" y1="397.9" y2="402.2" stroke="#333" stroke-width="1.1"/>
<text transform="translate(100.4,410.8) rotate(45)" font-size="9.7" font-weight="bold" fill="#000">Day 2 TST</text>
<line x1="142.8" x2="142.8" y1="397.9" y2="402.2" stroke="#333" stroke-width="1.1"/>
<text transform="translate(137.9,410.8) rotate(45)" font-size="9.7" font-weight="bold" fill="#000">Day 7 TST</text>
<rect x="173.15" y="265.9" width="118.6" height="132" fill="#F5F5F5"/>
<clipPath id="clipB1"><rect x="173.15" y="265.9" width="118.6" height="132"/></clipPath>
<line x1="173.15" x2="291.75" y1="275.92" y2="275.92" stroke="#fff" stroke-width="0.6"/>
<line x1="173.15" x2="291.75" y1="302.77" y2="302.77" stroke="#fff" stroke-width="0.6"/>
<line x1="173.15" x2="291.75" y1="329.62" y2="329.62" stroke="#fff" stroke-width="0.6"/>
<line x1="173.15" x2="291.75" y1="356.47" y2="356.47" stroke="#fff" stroke-width="0.6"/>
<line x1="173.15" x2="291.75" y1="383.32" y2="383.32" stroke="#fff" stroke-width="0.6"/>
<line x1="173.15" x2="291.75" y1="289.35" y2="289.35" stroke="#fff" stroke-width="1.3"/>
<line x1="173.15" x2="291.75" y1="316.2" y2="316.2" stroke="#fff" stroke-width="1.3"/>
<line x1="173.15" x2="291.75" y1="343.05" y2="343.05" stroke="#fff" stroke-width="1.3"/>
<line x1="173.15" x2="291.75" y1="369.9" y2="369.9" stroke="#fff" stroke-width="1.3"/>
<line x1="173.15" x2="291.75" y1="396.75" y2="396.75" stroke="#fff" stroke-width="1.3"/>
<line x1="195.1" x2="195.1" y1="265.9" y2="397.9" stroke="#fff" stroke-width="1.3"/>
<line x1="232.4" x2="232.4" y1="265.9" y2="397.9" stroke="#fff" stroke-width="1.3"/>
<line x1="269.6" x2="269.6" y1="265.9" y2="397.9" stroke="#fff" stroke-width="1.3"/>
<rect x="173.15" y="244.3" width="118.6" height="21.6" fill="#E3E3E3" stroke="#000" stroke-width="1.6"/>
<text x="234.95" y="258.75" font-size="10" font-weight="bold" text-anchor="middle" fill="#000">CD4 T cells</text>
<path d="M195.2,312.5 V309.2 H232.5 V312.5" fill="none" stroke="#222" stroke-width="1.1" clip-path="url(#clipB1)"/>
<path d="M201.62,302.38 L202.21,304.47 L204.38,304.38 L202.58,305.59 L203.33,307.62 L201.62,306.28 L199.92,307.62 L200.67,305.59 L198.87,304.38 L201.04,304.47 Z M207.58,302.38 L208.16,304.47 L210.33,304.38 L208.53,305.59 L209.28,307.62 L207.58,306.28 L205.87,307.62 L206.62,305.59 L204.82,304.38 L206.99,304.47 Z M213.53,302.38 L214.11,304.47 L216.28,304.38 L214.48,305.59 L215.23,307.62 L213.53,306.28 L211.82,307.62 L212.57,305.59 L210.77,304.38 L212.94,304.47 Z M219.48,302.38 L220.06,304.47 L222.23,304.38 L220.43,305.59 L221.18,307.62 L219.48,306.28 L217.77,307.62 L218.52,305.59 L216.72,304.38 L218.89,304.47 Z" fill="#111" clip-path="url(#clipB1)"/>
<path d="M232.3,297.1 V293.8 H269.8 V297.1" fill="none" stroke="#222" stroke-width="1.1" clip-path="url(#clipB1)"/>
<path d="M238.83,286.88 L239.41,288.97 L241.58,288.88 L239.78,290.09 L240.53,292.12 L238.83,290.78 L237.12,292.12 L237.87,290.09 L236.07,288.88 L238.24,288.97 Z M244.74,286.88 L245.33,288.97 L247.5,288.88 L245.69,290.09 L246.45,292.12 L244.74,290.78 L243.04,292.12 L243.79,290.09 L241.98,288.88 L244.15,288.97 Z M250.66,286.88 L251.25,288.97 L253.42,288.88 L251.61,290.09 L252.36,292.12 L250.66,290.78 L248.95,292.12 L249.71,290.09 L247.9,288.88 L250.07,288.97 Z M256.57,286.88 L257.16,288.97 L259.33,288.88 L257.53,290.09 L258.28,292.12 L256.57,290.78 L254.87,292.12 L255.62,290.09 L253.82,288.88 L255.99,288.97 Z" fill="#111" clip-path="url(#clipB1)"/>
<g fill="#000" clip-path="url(#clipB1)">
<circle cx="194.7" cy="355.4" r="1.85"/>
<circle cx="194" cy="362.3" r="1.85"/>
<circle cx="196.7" cy="362.3" r="1.85"/>
<circle cx="193.3" cy="364.7" r="1.85"/>
<circle cx="197.7" cy="364.3" r="1.85"/>
<circle cx="191.9" cy="367.8" r="1.85"/>
<circle cx="195" cy="366.7" r="1.85"/>
<circle cx="198.8" cy="367.4" r="1.85"/>
<circle cx="191.9" cy="370.2" r="1.85"/>
<circle cx="195.3" cy="369.8" r="1.85"/>
<circle cx="199.1" cy="369.8" r="1.85"/>
<circle cx="192.6" cy="372.6" r="1.85"/>
<circle cx="195.7" cy="372.2" r="1.85"/>
<circle cx="199.1" cy="372.6" r="1.85"/>
<circle cx="193.3" cy="375" r="1.85"/>
<circle cx="196.7" cy="374.6" r="1.85"/>
<circle cx="198.8" cy="374.3" r="1.85"/>
<circle cx="195" cy="376.7" r="1.85"/>
<circle cx="195.3" cy="379.8" r="1.85"/>
<circle cx="193.5" cy="368.5" r="1.85"/>
<circle cx="197" cy="371" r="1.85"/>
</g>
<path d="M195.1,349.5 C195.06,350.43 195.21,353.5 194.88,355.1 C194.54,356.7 194.41,357.43 193.1,359.1 C191.79,360.77 188.77,363.42 187,365.1 C185.23,366.78 183.33,367.93 182.5,369.2 C181.67,370.47 181.42,371.62 182,372.7 C182.58,373.78 184.32,374.78 186,375.7 C187.68,376.62 190.66,377.1 192.1,378.2 C193.54,379.3 194.15,380.78 194.65,382.3 C195.15,383.82 195.03,386.47 195.1,387.3 L195.1,387.3 C195.17,386.47 195.05,383.82 195.55,382.3 C196.05,380.78 196.66,379.3 198.1,378.2 C199.54,377.1 202.52,376.62 204.2,375.7 C205.88,374.78 207.62,373.78 208.2,372.7 C208.78,371.62 208.53,370.47 207.7,369.2 C206.87,367.93 204.97,366.78 203.2,365.1 C201.43,363.42 198.41,360.77 197.1,359.1 C195.79,357.43 195.66,356.7 195.32,355.1 C194.99,353.5 195.14,350.43 195.1,349.5 Z" fill="none" stroke="#FF0000" stroke-width="1.6" stroke-linejoin="round" clip-path="url(#clipB1)"/>
<g fill="#000" clip-path="url(#clipB1)">
<circle cx="229.4" cy="321.05" r="1.85"/>
<circle cx="231.83" cy="320.37" r="1.85"/>
<circle cx="233.84" cy="320.43" r="1.85"/>
<circle cx="235.31" cy="320.64" r="1.85"/>
<circle cx="228.3" cy="322.59" r="1.85"/>
<circle cx="230.81" cy="322.63" r="1.85"/>
<circle cx="234.17" cy="322.83" r="1.85"/>
<circle cx="235.48" cy="322.2" r="1.85"/>
<circle cx="229.5" cy="324.81" r="1.85"/>
<circle cx="231.05" cy="324.35" r="1.85"/>
<circle cx="234.09" cy="324.02" r="1.85"/>
<circle cx="235.62" cy="324.71" r="1.85"/>
<circle cx="229.02" cy="325.98" r="1.85"/>
<circle cx="231.09" cy="325.58" r="1.85"/>
<circle cx="233.52" cy="326.06" r="1.85"/>
<circle cx="236.11" cy="325.93" r="1.85"/>
<circle cx="228.97" cy="327.82" r="1.85"/>
<circle cx="230.87" cy="327.81" r="1.85"/>
<circle cx="233.52" cy="327.12" r="1.85"/>
<circle cx="235.19" cy="327.17" r="1.85"/>
<circle cx="228.67" cy="329.44" r="1.85"/>
<circle cx="230.94" cy="329.19" r="1.85"/>
<circle cx="233.87" cy="328.76" r="1.85"/>
<circle cx="235.32" cy="329.07" r="1.85"/>
<circle cx="228.76" cy="331.38" r="1.85"/>
<circle cx="230.63" cy="330.56" r="1.85"/>
<circle cx="233.6" cy="330.68" r="1.85"/>
<circle cx="235.51" cy="330.74" r="1.85"/>
<circle cx="229.41" cy="332.16" r="1.85"/>
<circle cx="230.87" cy="332.81" r="1.85"/>
<circle cx="233.1" cy="332.69" r="1.85"/>
<circle cx="234.61" cy="332.5" r="1.85"/>
<circle cx="229.14" cy="334.49" r="1.85"/>
<circle cx="230.75" cy="334.63" r="1.85"/>
<circle cx="233.53" cy="334.98" r="1.85"/>
<circle cx="234.78" cy="333.96" r="1.85"/>
<circle cx="229.3" cy="335.94" r="1.85"/>
<circle cx="230.86" cy="335.62" r="1.85"/>
<circle cx="233.42" cy="336.29" r="1.85"/>
<circle cx="234.85" cy="336.52" r="1.85"/>
<circle cx="229.61" cy="337.46" r="1.85"/>
<circle cx="230.66" cy="337.55" r="1.85"/>
<circle cx="233.24" cy="337.96" r="1.85"/>
<circle cx="235.92" cy="337.93" r="1.85"/>
<circle cx="229.93" cy="339.44" r="1.85"/>
<circle cx="231.52" cy="339.03" r="1.85"/>
<circle cx="233.41" cy="339.5" r="1.85"/>
<circle cx="235.51" cy="339.69" r="1.85"/>
<circle cx="229.64" cy="341.61" r="1.85"/>
<circle cx="231.95" cy="341.03" r="1.85"/>
<circle cx="233.84" cy="341.05" r="1.85"/>
<circle cx="234.91" cy="340.93" r="1.85"/>
<circle cx="230.39" cy="343.21" r="1.85"/>
<circle cx="232.93" cy="342.55" r="1.85"/>
<circle cx="233.54" cy="342.37" r="1.85"/>
<circle cx="230.02" cy="344.44" r="1.85"/>
<circle cx="232.41" cy="344.69" r="1.85"/>
<circle cx="234.19" cy="345.09" r="1.85"/>
<circle cx="229.2" cy="349.7" r="1.85"/>
<circle cx="235.4" cy="352.1" r="1.85"/>
<circle cx="229.7" cy="354.5" r="1.85"/>
<circle cx="228.7" cy="358.3" r="1.85"/>
<circle cx="228.7" cy="360.3" r="1.85"/>
<circle cx="235.4" cy="360.3" r="1.85"/>
<circle cx="235" cy="363.6" r="1.85"/>
<circle cx="229.7" cy="367.5" r="1.85"/>
<circle cx="229.2" cy="370.9" r="1.85"/>
<circle cx="229.7" cy="373.3" r="1.85"/>
<circle cx="229.7" cy="380.5" r="1.85"/>
<circle cx="229.5" cy="377" r="1.85"/>
<circle cx="229.2" cy="351.8" r="1.85"/>
<circle cx="228.9" cy="356.4" r="1.85"/>
<circle cx="234.8" cy="355" r="1.85"/>
<circle cx="229.4" cy="362.5" r="1.85"/>
<circle cx="229.8" cy="364.8" r="1.85"/>
</g>
<path d="M232.4,313.8 C232.36,314.87 232.89,318.6 232.18,320.2 C231.46,321.8 229.66,322.15 228.1,323.4 C226.54,324.65 223.97,326.27 222.8,327.7 C221.63,329.13 221.1,330.57 221.1,332 C221.1,333.43 221.82,334.88 222.8,336.3 C223.78,337.72 225.75,339.17 227,340.5 C228.25,341.83 229.48,342.77 230.3,344.3 C231.12,345.83 231.62,347.2 231.91,349.7 C232.19,352.2 231.91,353.1 232,359.3 C232.08,365.5 232.33,382.3 232.4,386.9 L232.4,386.9 C232.47,382.3 232.72,365.5 232.81,359.3 C232.89,353.1 232.61,352.2 232.9,349.7 C233.18,347.2 233.68,345.83 234.5,344.3 C235.32,342.77 236.55,341.83 237.8,340.5 C239.05,339.17 241.02,337.72 242,336.3 C242.98,334.88 243.7,333.43 243.7,332 C243.7,330.57 243.17,329.13 242,327.7 C240.83,326.27 238.26,324.65 236.7,323.4 C235.14,322.15 233.34,321.8 232.62,320.2 C231.91,318.6 232.44,314.87 232.4,313.8 Z" fill="none" stroke="#FF0000" stroke-width="1.6" stroke-linejoin="round" clip-path="url(#clipB1)"/>
<g fill="#000" clip-path="url(#clipB1)">
<circle cx="267.44" cy="318.27" r="1.85"/>
<circle cx="268.98" cy="317.75" r="1.85"/>
<circle cx="270.13" cy="318.24" r="1.85"/>
<circle cx="272.65" cy="317.33" r="1.85"/>
<circle cx="266.61" cy="319.39" r="1.85"/>
<circle cx="267.95" cy="319.29" r="1.85"/>
<circle cx="270.71" cy="319.98" r="1.85"/>
<circle cx="272.79" cy="318.85" r="1.85"/>
<circle cx="267.14" cy="320.59" r="1.85"/>
<circle cx="268.4" cy="321.65" r="1.85"/>
<circle cx="270.68" cy="321.23" r="1.85"/>
<circle cx="273.45" cy="320.94" r="1.85"/>
<circle cx="266.52" cy="322.97" r="1.85"/>
<circle cx="268.81" cy="323.01" r="1.85"/>
<circle cx="270.59" cy="323.23" r="1.85"/>
<circle cx="272.7" cy="322.64" r="1.85"/>
<circle cx="265.78" cy="324.84" r="1.85"/>
<circle cx="268.68" cy="324.42" r="1.85"/>
<circle cx="270.44" cy="324.13" r="1.85"/>
<circle cx="273.16" cy="324.65" r="1.85"/>
<circle cx="266.88" cy="326.14" r="1.85"/>
<circle cx="268.4" cy="326.01" r="1.85"/>
<circle cx="270.76" cy="325.67" r="1.85"/>
<circle cx="272.71" cy="326.33" r="1.85"/>
<circle cx="267.24" cy="327.71" r="1.85"/>
<circle cx="268.94" cy="327.56" r="1.85"/>
<circle cx="270.92" cy="328.12" r="1.85"/>
<circle cx="273.43" cy="327.49" r="1.85"/>
<circle cx="265.88" cy="329.84" r="1.85"/>
<circle cx="268.96" cy="329.79" r="1.85"/>
<circle cx="270.25" cy="329.57" r="1.85"/>
<circle cx="271.97" cy="329.8" r="1.85"/>
<circle cx="266.65" cy="331.2" r="1.85"/>
<circle cx="268.54" cy="330.91" r="1.85"/>
<circle cx="270.29" cy="330.87" r="1.85"/>
<circle cx="273.29" cy="331.93" r="1.85"/>
<circle cx="265.99" cy="333.4" r="1.85"/>
<circle cx="268.99" cy="333.56" r="1.85"/>
<circle cx="270.77" cy="332.86" r="1.85"/>
<circle cx="272.12" cy="332.74" r="1.85"/>
<circle cx="265.88" cy="334.21" r="1.85"/>
<circle cx="268.35" cy="335.35" r="1.85"/>
<circle cx="270.83" cy="334.56" r="1.85"/>
<circle cx="272.17" cy="334.43" r="1.85"/>
<circle cx="267.62" cy="336.07" r="1.85"/>
<circle cx="267.98" cy="336.91" r="1.85"/>
<circle cx="271.08" cy="336.4" r="1.85"/>
<circle cx="271.91" cy="336.47" r="1.85"/>
<circle cx="266" cy="336.3" r="1.85"/>
<circle cx="273.7" cy="336.9" r="1.85"/>
<circle cx="271.2" cy="349.4" r="1.85"/>
<circle cx="266" cy="352.7" r="1.85"/>
<circle cx="268.4" cy="368.6" r="1.85"/>
<circle cx="266.7" cy="375.8" r="1.85"/>
</g>
<path d="M269.6,312.1 C269.53,312.92 270.15,315.65 269.2,317 C268.25,318.35 266.03,319.22 263.9,320.2 C261.77,321.18 258.33,322.23 256.4,322.9 C254.47,323.57 252.3,323.58 252.3,324.2 C252.3,324.82 254.65,325.57 256.4,326.6 C258.15,327.63 261.02,329.15 262.8,330.4 C264.58,331.65 266.03,332.85 267.1,334.1 C268.17,335.35 268.83,335.25 269.2,337.9 C269.56,340.55 269.22,342.88 269.29,350 C269.35,357.12 269.55,375.5 269.6,380.6 L269.6,380.6 C269.65,375.5 269.85,357.12 269.92,350 C269.98,342.88 269.64,340.55 270,337.9 C270.37,335.25 271.03,335.35 272.1,334.1 C273.17,332.85 274.62,331.65 276.4,330.4 C278.18,329.15 281.05,327.63 282.8,326.6 C284.55,325.57 286.9,324.82 286.9,324.2 C286.9,323.58 284.73,323.57 282.8,322.9 C280.87,322.23 277.43,321.18 275.3,320.2 C273.17,319.22 270.95,318.35 270,317 C269.06,315.65 269.67,312.92 269.6,312.1 Z" fill="none" stroke="#FF0000" stroke-width="1.6" stroke-linejoin="round" clip-path="url(#clipB1)"/>
<path d="M173.15,265.9 V397.9 H291.75 V265.9" fill="none" stroke="#333" stroke-width="1.1"/>
<line x1="173.15" x2="291.75" y1="265.9" y2="265.9" stroke="#000" stroke-width="1.6"/>
<line x1="195.1" x2="195.1" y1="397.9" y2="402.2" stroke="#333" stroke-width="1.1"/>
<text transform="translate(190.2,410.8) rotate(45)" font-size="9.7" font-weight="bold" fill="#000">Saline</text>
<line x1="232.4" x2="232.4" y1="397.9" y2="402.2" stroke="#333" stroke-width="1.1"/>
<text transform="translate(227.5,410.8) rotate(45)" font-size="9.7" font-weight="bold" fill="#000">Day 2 TST</text>
<line x1="269.6" x2="269.6" y1="397.9" y2="402.2" stroke="#333" stroke-width="1.1"/>
<text transform="translate(264.7,410.8) rotate(45)" font-size="9.7" font-weight="bold" fill="#000">Day 7 TST</text>
<rect x="300.3" y="265.9" width="118.6" height="132" fill="#F5F5F5"/>
<clipPath id="clipB2"><rect x="300.3" y="265.9" width="118.6" height="132"/></clipPath>
<line x1="300.3" x2="418.9" y1="275.92" y2="275.92" stroke="#fff" stroke-width="0.6"/>
<line x1="300.3" x2="418.9" y1="302.77" y2="302.77" stroke="#fff" stroke-width="0.6"/>
<line x1="300.3" x2="418.9" y1="329.62" y2="329.62" stroke="#fff" stroke-width="0.6"/>
<line x1="300.3" x2="418.9" y1="356.47" y2="356.47" stroke="#fff" stroke-width="0.6"/>
<line x1="300.3" x2="418.9" y1="383.32" y2="383.32" stroke="#fff" stroke-width="0.6"/>
<line x1="300.3" x2="418.9" y1="289.35" y2="289.35" stroke="#fff" stroke-width="1.3"/>
<line x1="300.3" x2="418.9" y1="316.2" y2="316.2" stroke="#fff" stroke-width="1.3"/>
<line x1="300.3" x2="418.9" y1="343.05" y2="343.05" stroke="#fff" stroke-width="1.3"/>
<line x1="300.3" x2="418.9" y1="369.9" y2="369.9" stroke="#fff" stroke-width="1.3"/>
<line x1="300.3" x2="418.9" y1="396.75" y2="396.75" stroke="#fff" stroke-width="1.3"/>
<line x1="322.4" x2="322.4" y1="265.9" y2="397.9" stroke="#fff" stroke-width="1.3"/>
<line x1="359.7" x2="359.7" y1="265.9" y2="397.9" stroke="#fff" stroke-width="1.3"/>
<line x1="396.7" x2="396.7" y1="265.9" y2="397.9" stroke="#fff" stroke-width="1.3"/>
<rect x="300.3" y="244.3" width="118.6" height="21.6" fill="#E3E3E3" stroke="#000" stroke-width="1.6"/>
<text x="362" y="258.75" font-size="10" font-weight="bold" text-anchor="middle" fill="#000">CD8 T cells</text>
<path d="M322.3,308.8 V305.5 H359.6 V308.8" fill="none" stroke="#222" stroke-width="1.1" clip-path="url(#clipB2)"/>
<path d="M328.62,298.38 L329.21,300.47 L331.38,300.38 L329.58,301.59 L330.33,303.62 L328.62,302.28 L326.92,303.62 L327.67,301.59 L325.87,300.38 L328.04,300.47 Z M334.57,298.38 L335.16,300.47 L337.33,300.38 L335.53,301.59 L336.28,303.62 L334.57,302.28 L332.87,303.62 L333.62,301.59 L331.82,300.38 L333.99,300.47 Z M340.52,298.38 L341.11,300.47 L343.28,300.38 L341.48,301.59 L342.23,303.62 L340.52,302.28 L338.82,303.62 L339.57,301.59 L337.77,300.38 L339.94,300.47 Z M346.47,298.38 L347.06,300.47 L349.23,300.38 L347.43,301.59 L348.18,303.62 L346.47,302.28 L344.77,303.62 L345.52,301.59 L343.72,300.38 L345.89,300.47 Z" fill="#111" clip-path="url(#clipB2)"/>
<path d="M359.6,293 V289.7 H397 V293" fill="none" stroke="#222" stroke-width="1.1" clip-path="url(#clipB2)"/>
<path d="M373.62,282.78 L374.21,284.87 L376.38,284.78 L374.58,285.99 L375.33,288.02 L373.62,286.68 L371.92,288.02 L372.67,285.99 L370.87,284.78 L373.04,284.87 Z M379.88,282.78 L380.46,284.87 L382.63,284.78 L380.83,285.99 L381.58,288.02 L379.88,286.68 L378.17,288.02 L378.92,285.99 L377.12,284.78 L379.29,284.87 Z" fill="#111" clip-path="url(#clipB2)"/>
<g fill="#000" clip-path="url(#clipB2)">
<circle cx="320.2" cy="358.1" r="1.85"/>
<circle cx="321.4" cy="362.2" r="1.85"/>
<circle cx="324.2" cy="362.6" r="1.85"/>
<circle cx="319" cy="365" r="1.85"/>
<circle cx="322.2" cy="364.6" r="1.85"/>
<circle cx="325.9" cy="365" r="1.85"/>
<circle cx="319.4" cy="367.9" r="1.85"/>
<circle cx="323.4" cy="367.9" r="1.85"/>
<circle cx="326.7" cy="368.3" r="1.85"/>
<circle cx="319.4" cy="371.1" r="1.85"/>
<circle cx="322.6" cy="370.7" r="1.85"/>
<circle cx="326.3" cy="371.1" r="1.85"/>
<circle cx="320.6" cy="373.6" r="1.85"/>
<circle cx="324.6" cy="373.2" r="1.85"/>
<circle cx="322.2" cy="379.3" r="1.85"/>
<circle cx="325.9" cy="385.8" r="1.85"/>
<circle cx="321" cy="369.5" r="1.85"/>
<circle cx="325" cy="370" r="1.85"/>
</g>
<path d="M322.4,353.1 C322.34,353.93 322.59,356.6 322.04,358.1 C321.49,359.6 320.61,360.85 319.1,362.1 C317.59,363.35 314.93,364.42 313,365.6 C311.07,366.78 307.5,367.93 307.5,369.2 C307.5,370.47 311.07,372.03 313,373.2 C314.93,374.37 317.83,375.2 319.1,376.2 C320.37,377.2 320.35,378.18 320.6,379.2 C320.85,380.22 320.36,381.28 320.6,382.3 C320.84,383.32 321.74,383.8 322.04,385.3 C322.34,386.8 322.34,390.3 322.4,391.3 L322.4,391.3 C322.46,390.3 322.46,386.8 322.76,385.3 C323.06,383.8 323.96,383.32 324.2,382.3 C324.44,381.28 323.95,380.22 324.2,379.2 C324.45,378.18 324.43,377.2 325.7,376.2 C326.97,375.2 329.87,374.37 331.8,373.2 C333.73,372.03 337.3,370.47 337.3,369.2 C337.3,367.93 333.73,366.78 331.8,365.6 C329.87,364.42 327.21,363.35 325.7,362.1 C324.19,360.85 323.31,359.6 322.76,358.1 C322.21,356.6 322.46,353.93 322.4,353.1 Z" fill="none" stroke="#FF0000" stroke-width="1.6" stroke-linejoin="round" clip-path="url(#clipB2)"/>
<g fill="#000" clip-path="url(#clipB2)">
<circle cx="356.99" cy="313.86" r="1.85"/>
<circle cx="360.25" cy="314.61" r="1.85"/>
<circle cx="361.75" cy="314.7" r="1.85"/>
<circle cx="356.81" cy="316.33" r="1.85"/>
<circle cx="359.17" cy="315.56" r="1.85"/>
<circle cx="360.7" cy="316.24" r="1.85"/>
<circle cx="361.64" cy="316.22" r="1.85"/>
<circle cx="357.08" cy="317.53" r="1.85"/>
<circle cx="358.95" cy="317.76" r="1.85"/>
<circle cx="360.45" cy="317.83" r="1.85"/>
<circle cx="362.61" cy="318.08" r="1.85"/>
<circle cx="356.46" cy="319.49" r="1.85"/>
<circle cx="358.54" cy="320.04" r="1.85"/>
<circle cx="361.17" cy="319.69" r="1.85"/>
<circle cx="362.13" cy="319.22" r="1.85"/>
<circle cx="356.88" cy="320.74" r="1.85"/>
<circle cx="359.05" cy="320.86" r="1.85"/>
<circle cx="361.31" cy="321.31" r="1.85"/>
<circle cx="362.81" cy="321.55" r="1.85"/>
<circle cx="357.37" cy="322.87" r="1.85"/>
<circle cx="358.64" cy="322.5" r="1.85"/>
<circle cx="360.27" cy="322.87" r="1.85"/>
<circle cx="362.04" cy="322.89" r="1.85"/>
<circle cx="357.48" cy="324.8" r="1.85"/>
<circle cx="358.68" cy="324.19" r="1.85"/>
<circle cx="360.23" cy="324.96" r="1.85"/>
<circle cx="362.28" cy="324.67" r="1.85"/>
<circle cx="356.84" cy="326.26" r="1.85"/>
<circle cx="358.96" cy="326.71" r="1.85"/>
<circle cx="360.91" cy="326.62" r="1.85"/>
<circle cx="362.68" cy="326.48" r="1.85"/>
<circle cx="357.31" cy="328.47" r="1.85"/>
<circle cx="358.64" cy="328.07" r="1.85"/>
<circle cx="361.08" cy="327.91" r="1.85"/>
<circle cx="362.34" cy="327.72" r="1.85"/>
<circle cx="356.75" cy="329.75" r="1.85"/>
<circle cx="358.28" cy="329.29" r="1.85"/>
<circle cx="360.86" cy="329.65" r="1.85"/>
<circle cx="362.31" cy="329.95" r="1.85"/>
<circle cx="357.36" cy="331.14" r="1.85"/>
<circle cx="358.76" cy="331.14" r="1.85"/>
<circle cx="360.64" cy="331.12" r="1.85"/>
<circle cx="363.24" cy="330.85" r="1.85"/>
<circle cx="356.64" cy="333.57" r="1.85"/>
<circle cx="359.2" cy="333.58" r="1.85"/>
<circle cx="360.47" cy="333.07" r="1.85"/>
<circle cx="362.71" cy="333.27" r="1.85"/>
<circle cx="357.04" cy="334.62" r="1.85"/>
<circle cx="359.02" cy="335.24" r="1.85"/>
<circle cx="360.83" cy="334.43" r="1.85"/>
<circle cx="362.8" cy="335.24" r="1.85"/>
<circle cx="357.21" cy="336.03" r="1.85"/>
<circle cx="359.04" cy="336.98" r="1.85"/>
<circle cx="360.23" cy="336.33" r="1.85"/>
<circle cx="362.13" cy="336.86" r="1.85"/>
<circle cx="357.07" cy="338.17" r="1.85"/>
<circle cx="358.41" cy="337.6" r="1.85"/>
<circle cx="360.69" cy="338.59" r="1.85"/>
<circle cx="362.54" cy="338.69" r="1.85"/>
<circle cx="358.02" cy="340.17" r="1.85"/>
<circle cx="359.1" cy="339.45" r="1.85"/>
<circle cx="361.25" cy="340.33" r="1.85"/>
<circle cx="361.52" cy="339.27" r="1.85"/>
<circle cx="357.36" cy="341.01" r="1.85"/>
<circle cx="359.23" cy="341.68" r="1.85"/>
<circle cx="361.24" cy="341.85" r="1.85"/>
<circle cx="361.5" cy="347.8" r="1.85"/>
<circle cx="362.1" cy="346.6" r="1.85"/>
<circle cx="356.7" cy="351.4" r="1.85"/>
<circle cx="359.9" cy="352.5" r="1.85"/>
<circle cx="356.2" cy="357.8" r="1.85"/>
<circle cx="358.3" cy="358.9" r="1.85"/>
<circle cx="356.7" cy="365.9" r="1.85"/>
<circle cx="362.1" cy="364.8" r="1.85"/>
<circle cx="362.6" cy="370.1" r="1.85"/>
<circle cx="357.3" cy="370.1" r="1.85"/>
<circle cx="357.3" cy="373.9" r="1.85"/>
<circle cx="356.2" cy="350.8" r="1.85"/>
<circle cx="356.5" cy="345" r="1.85"/>
</g>
<path d="M359.7,309.3 C359.63,310.1 360.06,312.32 359.3,314.1 C358.53,315.88 356.52,318.13 355.1,320 C353.68,321.87 351.25,323.7 350.8,325.3 C350.35,326.9 351.68,328 352.4,329.6 C353.12,331.2 354.2,332.93 355.1,334.9 C356,336.87 357.12,339.62 357.8,341.4 C358.48,343.18 358.91,342.5 359.16,345.6 C359.41,348.7 359.21,353.95 359.3,360 C359.38,366.05 359.63,378.25 359.7,381.9 L359.7,381.9 C359.77,378.25 360.01,366.05 360.1,360 C360.19,353.95 359.99,348.7 360.24,345.6 C360.49,342.5 360.92,343.18 361.6,341.4 C362.28,339.62 363.4,336.87 364.3,334.9 C365.2,332.93 366.28,331.2 367,329.6 C367.72,328 369.05,326.9 368.6,325.3 C368.15,323.7 365.72,321.87 364.3,320 C362.88,318.13 360.87,315.88 360.1,314.1 C359.34,312.32 359.77,310.1 359.7,309.3 Z" fill="none" stroke="#FF0000" stroke-width="1.6" stroke-linejoin="round" clip-path="url(#clipB2)"/>
<g fill="#000" clip-path="url(#clipB2)">
<circle cx="393.64" cy="321.74" r="1.85"/>
<circle cx="395.6" cy="322.44" r="1.85"/>
<circle cx="398.05" cy="321.74" r="1.85"/>
<circle cx="400.51" cy="322.46" r="1.85"/>
<circle cx="393.01" cy="323.38" r="1.85"/>
<circle cx="394.88" cy="323.68" r="1.85"/>
<circle cx="397.04" cy="323.29" r="1.85"/>
<circle cx="398.77" cy="323.23" r="1.85"/>
<circle cx="399.78" cy="323.32" r="1.85"/>
<circle cx="392.96" cy="325.17" r="1.85"/>
<circle cx="394.56" cy="324.81" r="1.85"/>
<circle cx="396.33" cy="325.87" r="1.85"/>
<circle cx="398.4" cy="325.6" r="1.85"/>
<circle cx="399.94" cy="325.53" r="1.85"/>
<circle cx="393.58" cy="326.61" r="1.85"/>
<circle cx="394.42" cy="327.05" r="1.85"/>
<circle cx="396.95" cy="326.71" r="1.85"/>
<circle cx="398.72" cy="327.38" r="1.85"/>
<circle cx="400.12" cy="326.63" r="1.85"/>
<circle cx="392.96" cy="329.3" r="1.85"/>
<circle cx="394.07" cy="328.76" r="1.85"/>
<circle cx="396.21" cy="328.43" r="1.85"/>
<circle cx="398.44" cy="328.83" r="1.85"/>
<circle cx="400.86" cy="328.44" r="1.85"/>
<circle cx="393.37" cy="330.56" r="1.85"/>
<circle cx="394.95" cy="330.17" r="1.85"/>
<circle cx="396.32" cy="330.01" r="1.85"/>
<circle cx="398.2" cy="331.03" r="1.85"/>
<circle cx="400.69" cy="330.54" r="1.85"/>
<circle cx="393.22" cy="331.85" r="1.85"/>
<circle cx="395.09" cy="332.43" r="1.85"/>
<circle cx="396.81" cy="332.29" r="1.85"/>
<circle cx="398.26" cy="332.38" r="1.85"/>
<circle cx="400.22" cy="332.67" r="1.85"/>
<circle cx="392.44" cy="333.56" r="1.85"/>
<circle cx="394.55" cy="333.55" r="1.85"/>
<circle cx="396.52" cy="333.8" r="1.85"/>
<circle cx="398.65" cy="333.65" r="1.85"/>
<circle cx="400.92" cy="333.97" r="1.85"/>
<circle cx="393.24" cy="336.15" r="1.85"/>
<circle cx="394.67" cy="335.6" r="1.85"/>
<circle cx="396.88" cy="335.96" r="1.85"/>
<circle cx="399.18" cy="335.49" r="1.85"/>
<circle cx="400.7" cy="335.12" r="1.85"/>
<circle cx="392.54" cy="336.82" r="1.85"/>
<circle cx="395.54" cy="337.36" r="1.85"/>
<circle cx="398.38" cy="337.18" r="1.85"/>
<circle cx="400.84" cy="337.21" r="1.85"/>
<circle cx="400.6" cy="340.8" r="1.85"/>
<circle cx="400.1" cy="342.8" r="1.85"/>
<circle cx="393.4" cy="347.1" r="1.85"/>
<circle cx="397.7" cy="349.5" r="1.85"/>
<circle cx="393.6" cy="347.4" r="1.85"/>
<circle cx="398.2" cy="349.5" r="1.85"/>
<circle cx="395.2" cy="365.4" r="1.85"/>
<circle cx="393.6" cy="370.2" r="1.85"/>
<circle cx="395.2" cy="373.9" r="1.85"/>
</g>
<path d="M396.7,317.7 C396.66,318.35 397.19,320.47 396.47,321.6 C395.76,322.73 394.36,323.62 392.4,324.5 C390.44,325.38 386.83,326.23 384.7,326.9 C382.57,327.57 379.6,327.62 379.6,328.5 C379.6,329.38 382.57,331.03 384.7,332.2 C386.83,333.37 390.5,334.38 392.4,335.5 C394.29,336.62 395.41,336.48 396.07,338.9 C396.73,341.32 396.23,343.53 396.34,350 C396.44,356.47 396.64,373.08 396.7,377.7 L396.7,377.7 C396.76,373.08 396.95,356.47 397.06,350 C397.17,343.53 396.67,341.32 397.33,338.9 C397.99,336.48 399.11,336.62 401,335.5 C402.89,334.38 406.57,333.37 408.7,332.2 C410.83,331.03 413.8,329.38 413.8,328.5 C413.8,327.62 410.83,327.57 408.7,326.9 C406.57,326.23 402.96,325.38 401,324.5 C399.04,323.62 397.64,322.73 396.93,321.6 C396.21,320.47 396.74,318.35 396.7,317.7 Z" fill="none" stroke="#FF0000" stroke-width="1.6" stroke-linejoin="round" clip-path="url(#clipB2)"/>
<path d="M300.3,265.9 V397.9 H418.9 V265.9" fill="none" stroke="#333" stroke-width="1.1"/>
<line x1="300.3" x2="418.9" y1="265.9" y2="265.9" stroke="#000" stroke-width="1.6"/>
<line x1="322.4" x2="322.4" y1="397.9" y2="402.2" stroke="#333" stroke-width="1.1"/>
<text transform="translate(317.5,410.8) rotate(45)" font-size="9.7" font-weight="bold" fill="#000">Saline</text>
<line x1="359.7" x2="359.7" y1="397.9" y2="402.2" stroke="#333" stroke-width="1.1"/>
<text transform="translate(354.8,410.8) rotate(45)" font-size="9.7" font-weight="bold" fill="#000">Day 2 TST</text>
<line x1="396.7" x2="396.7" y1="397.9" y2="402.2" stroke="#333" stroke-width="1.1"/>
<text transform="translate(391.8,410.8) rotate(45)" font-size="9.7" font-weight="bold" fill="#000">Day 7 TST</text>
<rect x="427.45" y="265.9" width="118.6" height="132" fill="#F5F5F5"/>
<clipPath id="clipB3"><rect x="427.45" y="265.9" width="118.6" height="132"/></clipPath>
<line x1="427.45" x2="546.05" y1="275.92" y2="275.92" stroke="#fff" stroke-width="0.6"/>
<line x1="427.45" x2="546.05" y1="302.77" y2="302.77" stroke="#fff" stroke-width="0.6"/>
<line x1="427.45" x2="546.05" y1="329.62" y2="329.62" stroke="#fff" stroke-width="0.6"/>
<line x1="427.45" x2="546.05" y1="356.47" y2="356.47" stroke="#fff" stroke-width="0.6"/>
<line x1="427.45" x2="546.05" y1="383.32" y2="383.32" stroke="#fff" stroke-width="0.6"/>
<line x1="427.45" x2="546.05" y1="289.35" y2="289.35" stroke="#fff" stroke-width="1.3"/>
<line x1="427.45" x2="546.05" y1="316.2" y2="316.2" stroke="#fff" stroke-width="1.3"/>
<line x1="427.45" x2="546.05" y1="343.05" y2="343.05" stroke="#fff" stroke-width="1.3"/>
<line x1="427.45" x2="546.05" y1="369.9" y2="369.9" stroke="#fff" stroke-width="1.3"/>
<line x1="427.45" x2="546.05" y1="396.75" y2="396.75" stroke="#fff" stroke-width="1.3"/>
<line x1="449.3" x2="449.3" y1="265.9" y2="397.9" stroke="#fff" stroke-width="1.3"/>
<line x1="486.7" x2="486.7" y1="265.9" y2="397.9" stroke="#fff" stroke-width="1.3"/>
<line x1="524.1" x2="524.1" y1="265.9" y2="397.9" stroke="#fff" stroke-width="1.3"/>
<rect x="427.45" y="244.3" width="118.6" height="21.6" fill="#E3E3E3" stroke="#000" stroke-width="1.6"/>
<text x="488.75" y="258.75" font-size="10" font-weight="bold" text-anchor="middle" fill="#000">NK cells</text>
<path d="M449.2,327.5 V324.2 H486.7 V327.5" fill="none" stroke="#222" stroke-width="1.1" clip-path="url(#clipB3)"/>
<path d="M455.62,317.18 L456.21,319.27 L458.38,319.18 L456.58,320.39 L457.33,322.42 L455.62,321.08 L453.92,322.42 L454.67,320.39 L452.87,319.18 L455.04,319.27 Z M461.57,317.18 L462.16,319.27 L464.33,319.18 L462.53,320.39 L463.28,322.42 L461.57,321.08 L459.87,322.42 L460.62,320.39 L458.82,319.18 L460.99,319.27 Z M467.52,317.18 L468.11,319.27 L470.28,319.18 L468.48,320.39 L469.23,322.42 L467.52,321.08 L465.82,322.42 L466.57,320.39 L464.77,319.18 L466.94,319.27 Z M473.47,317.18 L474.06,319.27 L476.23,319.18 L474.43,320.39 L475.18,322.42 L473.47,321.08 L471.77,322.42 L472.52,320.39 L470.72,319.18 L472.89,319.27 Z" fill="#111" clip-path="url(#clipB3)"/>
<path d="M486.6,311.8 V308.5 H524.1 V311.8" fill="none" stroke="#222" stroke-width="1.1" clip-path="url(#clipB3)"/>
<path d="M492.82,301.58 L493.41,303.67 L495.58,303.58 L493.78,304.79 L494.53,306.82 L492.82,305.48 L491.12,306.82 L491.87,304.79 L490.07,303.58 L492.24,303.67 Z M498.81,301.58 L499.4,303.67 L501.57,303.58 L499.76,304.79 L500.51,306.82 L498.81,305.48 L497.1,306.82 L497.86,304.79 L496.05,303.58 L498.22,303.67 Z M504.79,301.58 L505.38,303.67 L507.55,303.58 L505.74,304.79 L506.5,306.82 L504.79,305.48 L503.09,306.82 L503.84,304.79 L502.03,303.58 L504.2,303.67 Z M510.78,301.58 L511.36,303.67 L513.53,303.58 L511.73,304.79 L512.48,306.82 L510.78,305.48 L509.07,306.82 L509.82,304.79 L508.02,303.58 L510.19,303.67 Z" fill="#111" clip-path="url(#clipB3)"/>
<g fill="#000" clip-path="url(#clipB3)">
<circle cx="449" cy="361.2" r="1.85"/>
<circle cx="451.4" cy="361.2" r="1.85"/>
<circle cx="446.9" cy="363.6" r="1.85"/>
<circle cx="452.1" cy="363.3" r="1.85"/>
<circle cx="445.9" cy="366" r="1.85"/>
<circle cx="448.3" cy="365.7" r="1.85"/>
<circle cx="452.7" cy="365.3" r="1.85"/>
<circle cx="445.9" cy="368.1" r="1.85"/>
<circle cx="449" cy="367.7" r="1.85"/>
<circle cx="452.7" cy="367.7" r="1.85"/>
<circle cx="450.3" cy="369.8" r="1.85"/>
<circle cx="453.4" cy="369.4" r="1.85"/>
<circle cx="447.9" cy="372.2" r="1.85"/>
<circle cx="451.7" cy="371.8" r="1.85"/>
<circle cx="447.6" cy="374.2" r="1.85"/>
<circle cx="452.7" cy="373.9" r="1.85"/>
<circle cx="449.3" cy="375.9" r="1.85"/>
<circle cx="453.4" cy="375.9" r="1.85"/>
<circle cx="450.3" cy="377.7" r="1.85"/>
<circle cx="452.7" cy="377.7" r="1.85"/>
<circle cx="453.8" cy="380.4" r="1.85"/>
<circle cx="449.5" cy="373.5" r="1.85"/>
</g>
<path d="M449.3,352 C449.25,352.68 449.85,354.92 448.99,356.1 C448.12,357.28 445.93,358.02 444.1,359.1 C442.27,360.18 439.6,361.33 438,362.6 C436.4,363.87 434.5,365.43 434.5,366.7 C434.5,367.97 437.83,368.95 438,370.2 C438.17,371.45 435.17,372.95 435.5,374.2 C435.83,375.45 438.07,376.43 440,377.7 C441.93,378.97 445.6,380.78 447.1,381.8 C448.6,382.82 448.62,382.8 448.99,383.8 C449.35,384.8 449.25,387.13 449.3,387.8 L449.3,387.8 C449.35,387.13 449.25,384.8 449.62,383.8 C449.98,382.8 450,382.82 451.5,381.8 C453,380.78 456.67,378.97 458.6,377.7 C460.53,376.43 462.77,375.45 463.1,374.2 C463.43,372.95 460.43,371.45 460.6,370.2 C460.77,368.95 464.1,367.97 464.1,366.7 C464.1,365.43 462.2,363.87 460.6,362.6 C459,361.33 456.33,360.18 454.5,359.1 C452.67,358.02 450.48,357.28 449.62,356.1 C448.75,354.92 449.35,352.68 449.3,352 Z" fill="none" stroke="#FF0000" stroke-width="1.6" stroke-linejoin="round" clip-path="url(#clipB3)"/>
<g fill="#000" clip-path="url(#clipB3)">
<circle cx="484.32" cy="336.68" r="1.85"/>
<circle cx="485.12" cy="337.49" r="1.85"/>
<circle cx="488.31" cy="337.5" r="1.85"/>
<circle cx="489.56" cy="337.18" r="1.85"/>
<circle cx="484.07" cy="338.91" r="1.85"/>
<circle cx="485.88" cy="339.26" r="1.85"/>
<circle cx="487.91" cy="338.78" r="1.85"/>
<circle cx="489.64" cy="338.93" r="1.85"/>
<circle cx="482.85" cy="340.99" r="1.85"/>
<circle cx="485.55" cy="340.84" r="1.85"/>
<circle cx="488.23" cy="340.06" r="1.85"/>
<circle cx="489.23" cy="340.43" r="1.85"/>
<circle cx="483.58" cy="342.6" r="1.85"/>
<circle cx="485.22" cy="342.17" r="1.85"/>
<circle cx="487.8" cy="341.89" r="1.85"/>
<circle cx="490.39" cy="342.46" r="1.85"/>
<circle cx="483.3" cy="343.87" r="1.85"/>
<circle cx="485.77" cy="343.46" r="1.85"/>
<circle cx="488.37" cy="344.09" r="1.85"/>
<circle cx="490.62" cy="343.88" r="1.85"/>
<circle cx="484.16" cy="345.48" r="1.85"/>
<circle cx="485.52" cy="344.99" r="1.85"/>
<circle cx="488.24" cy="345.76" r="1.85"/>
<circle cx="490.23" cy="345.84" r="1.85"/>
<circle cx="483.85" cy="347.48" r="1.85"/>
<circle cx="485.35" cy="347.3" r="1.85"/>
<circle cx="488.14" cy="347.66" r="1.85"/>
<circle cx="489.15" cy="347.3" r="1.85"/>
<circle cx="484.41" cy="348.56" r="1.85"/>
<circle cx="485.11" cy="349.47" r="1.85"/>
<circle cx="487.27" cy="348.51" r="1.85"/>
<circle cx="490.26" cy="348.39" r="1.85"/>
<circle cx="484.01" cy="350.35" r="1.85"/>
<circle cx="485.48" cy="350.46" r="1.85"/>
<circle cx="488.18" cy="350.08" r="1.85"/>
<circle cx="489.23" cy="351.21" r="1.85"/>
<circle cx="484.54" cy="352.29" r="1.85"/>
<circle cx="486.08" cy="352.66" r="1.85"/>
<circle cx="487.46" cy="352.26" r="1.85"/>
<circle cx="489.27" cy="352.49" r="1.85"/>
<circle cx="483.4" cy="354.16" r="1.85"/>
<circle cx="485.86" cy="354.5" r="1.85"/>
<circle cx="488.24" cy="354.3" r="1.85"/>
<circle cx="490.25" cy="354.22" r="1.85"/>
<circle cx="483.2" cy="355.59" r="1.85"/>
<circle cx="485.06" cy="355.93" r="1.85"/>
<circle cx="487.88" cy="356.32" r="1.85"/>
<circle cx="489.7" cy="355.35" r="1.85"/>
<circle cx="484.02" cy="357.79" r="1.85"/>
<circle cx="484.98" cy="357.9" r="1.85"/>
<circle cx="488.24" cy="357.46" r="1.85"/>
<circle cx="490.03" cy="358.03" r="1.85"/>
<circle cx="483.43" cy="359.72" r="1.85"/>
<circle cx="485.84" cy="358.57" r="1.85"/>
<circle cx="487.4" cy="359.09" r="1.85"/>
<circle cx="489.6" cy="359.21" r="1.85"/>
<circle cx="484.05" cy="361.22" r="1.85"/>
<circle cx="485.16" cy="360.5" r="1.85"/>
<circle cx="487.35" cy="360.99" r="1.85"/>
<circle cx="488.92" cy="360.63" r="1.85"/>
<circle cx="483.32" cy="362.98" r="1.85"/>
<circle cx="485.23" cy="362.81" r="1.85"/>
<circle cx="487.39" cy="363.15" r="1.85"/>
<circle cx="489.75" cy="362.44" r="1.85"/>
<circle cx="483.49" cy="364.28" r="1.85"/>
<circle cx="485.63" cy="363.79" r="1.85"/>
<circle cx="487.74" cy="364.66" r="1.85"/>
<circle cx="489.91" cy="363.65" r="1.85"/>
<circle cx="483.3" cy="365.78" r="1.85"/>
<circle cx="486.08" cy="365.92" r="1.85"/>
<circle cx="487.57" cy="366.28" r="1.85"/>
<circle cx="489.65" cy="365.63" r="1.85"/>
<circle cx="483.37" cy="367.66" r="1.85"/>
<circle cx="485.56" cy="367.65" r="1.85"/>
<circle cx="487.6" cy="367.77" r="1.85"/>
<circle cx="489.16" cy="367.68" r="1.85"/>
<circle cx="482.6" cy="369" r="1.85"/>
<circle cx="490.7" cy="368.1" r="1.85"/>
<circle cx="483.4" cy="375.9" r="1.85"/>
<circle cx="488.6" cy="378.4" r="1.85"/>
<circle cx="484.3" cy="380.1" r="1.85"/>
<circle cx="484.7" cy="385.3" r="1.85"/>
</g>
<path d="M486.7,328.2 C486.68,329.63 487.15,334.67 486.56,336.8 C485.98,338.93 484.56,339.58 483.2,341 C481.84,342.42 479.75,343.68 478.4,345.3 C477.05,346.92 475.73,349.1 475.1,350.7 C474.47,352.3 474.32,353.48 474.6,354.9 C474.88,356.32 475.73,357.77 476.8,359.2 C477.87,360.63 479.77,361.88 481,363.5 C482.23,365.12 483.32,367.3 484.2,368.9 C485.08,370.5 485.92,371.73 486.3,373.1 C486.67,374.47 486.41,373.85 486.47,377.1 C486.54,380.35 486.66,390.02 486.7,392.6 L486.7,392.6 C486.74,390.02 486.86,380.35 486.93,377.1 C486.99,373.85 486.73,374.47 487.1,373.1 C487.48,371.73 488.32,370.5 489.2,368.9 C490.08,367.3 491.17,365.12 492.4,363.5 C493.63,361.88 495.53,360.63 496.6,359.2 C497.67,357.77 498.52,356.32 498.8,354.9 C499.08,353.48 498.93,352.3 498.3,350.7 C497.67,349.1 496.35,346.92 495,345.3 C493.65,343.68 491.56,342.42 490.2,341 C488.84,339.58 487.42,338.93 486.83,336.8 C486.25,334.67 486.72,329.63 486.7,328.2 Z" fill="none" stroke="#FF0000" stroke-width="1.6" stroke-linejoin="round" clip-path="url(#clipB3)"/>
<g fill="#000" clip-path="url(#clipB3)">
<circle cx="520.76" cy="334.24" r="1.85"/>
<circle cx="523.02" cy="334.01" r="1.85"/>
<circle cx="524.72" cy="334.59" r="1.85"/>
<circle cx="525.87" cy="334.5" r="1.85"/>
<circle cx="521.3" cy="336.24" r="1.85"/>
<circle cx="523.28" cy="335.83" r="1.85"/>
<circle cx="525.32" cy="335.69" r="1.85"/>
<circle cx="527.23" cy="336.29" r="1.85"/>
<circle cx="520.72" cy="337.54" r="1.85"/>
<circle cx="523.23" cy="337.22" r="1.85"/>
<circle cx="524.68" cy="337.01" r="1.85"/>
<circle cx="527.29" cy="337.74" r="1.85"/>
<circle cx="521.32" cy="338.83" r="1.85"/>
<circle cx="523.22" cy="339.38" r="1.85"/>
<circle cx="524.93" cy="338.68" r="1.85"/>
<circle cx="526.88" cy="339.23" r="1.85"/>
<circle cx="521.19" cy="341.04" r="1.85"/>
<circle cx="523.19" cy="340.51" r="1.85"/>
<circle cx="525.16" cy="341.32" r="1.85"/>
<circle cx="527.46" cy="341.52" r="1.85"/>
<circle cx="520.58" cy="342.96" r="1.85"/>
<circle cx="523.07" cy="342.69" r="1.85"/>
<circle cx="525.57" cy="342.42" r="1.85"/>
<circle cx="527.35" cy="343.22" r="1.85"/>
<circle cx="521.15" cy="343.88" r="1.85"/>
<circle cx="523.06" cy="344.59" r="1.85"/>
<circle cx="524.73" cy="344.59" r="1.85"/>
<circle cx="526.94" cy="344.25" r="1.85"/>
<circle cx="521.33" cy="346.38" r="1.85"/>
<circle cx="523.25" cy="346.28" r="1.85"/>
<circle cx="524.75" cy="346.52" r="1.85"/>
<circle cx="527.3" cy="345.54" r="1.85"/>
<circle cx="521.53" cy="347.19" r="1.85"/>
<circle cx="523.31" cy="347.91" r="1.85"/>
<circle cx="524.63" cy="347.53" r="1.85"/>
<circle cx="527.44" cy="347.5" r="1.85"/>
<circle cx="521.45" cy="349.05" r="1.85"/>
<circle cx="523.39" cy="348.93" r="1.85"/>
<circle cx="525.19" cy="349.59" r="1.85"/>
<circle cx="527.4" cy="349.16" r="1.85"/>
<circle cx="521.17" cy="350.76" r="1.85"/>
<circle cx="523.28" cy="351.39" r="1.85"/>
<circle cx="525.05" cy="350.88" r="1.85"/>
<circle cx="527.06" cy="351.08" r="1.85"/>
<circle cx="520.1" cy="355.8" r="1.85"/>
<circle cx="520.6" cy="358" r="1.85"/>
<circle cx="526.5" cy="360.6" r="1.85"/>
<circle cx="522.3" cy="364.9" r="1.85"/>
<circle cx="520.8" cy="356.4" r="1.85"/>
<circle cx="526.6" cy="360.3" r="1.85"/>
<circle cx="522.3" cy="365.1" r="1.85"/>
<circle cx="520.8" cy="372.8" r="1.85"/>
<circle cx="522.3" cy="377.7" r="1.85"/>
</g>
<path d="M524.1,326.4 C524.05,327.3 524.62,330.47 523.78,331.8 C522.95,333.13 521.13,333.52 519.1,334.4 C517.07,335.28 513.57,335.75 511.6,337.1 C509.63,338.45 507.48,340.9 507.3,342.5 C507.12,344.1 508.72,345.37 510.5,346.7 C512.28,348.03 516.13,349.25 518,350.5 C519.87,351.75 520.78,352.87 521.7,354.2 C522.62,355.53 523.17,355.87 523.51,358.5 C523.86,361.13 523.64,365.92 523.74,370 C523.84,374.08 524.04,380.83 524.1,383 L524.1,383 C524.16,380.83 524.36,374.08 524.46,370 C524.56,365.92 524.35,361.13 524.69,358.5 C525.03,355.87 525.58,355.53 526.5,354.2 C527.42,352.87 528.33,351.75 530.2,350.5 C532.07,349.25 535.92,348.03 537.7,346.7 C539.48,345.37 541.08,344.1 540.9,342.5 C540.72,340.9 538.57,338.45 536.6,337.1 C534.63,335.75 531.13,335.28 529.1,334.4 C527.07,333.52 525.25,333.13 524.42,331.8 C523.58,330.47 524.15,327.3 524.1,326.4 Z" fill="none" stroke="#FF0000" stroke-width="1.6" stroke-linejoin="round" clip-path="url(#clipB3)"/>
<path d="M427.45,265.9 V397.9 H546.05 V265.9" fill="none" stroke="#333" stroke-width="1.1"/>
<line x1="427.45" x2="546.05" y1="265.9" y2="265.9" stroke="#000" stroke-width="1.6"/>
<line x1="449.3" x2="449.3" y1="397.9" y2="402.2" stroke="#333" stroke-width="1.1"/>
<text transform="translate(444.4,410.8) rotate(45)" font-size="9.7" font-weight="bold" fill="#000">Saline</text>
<line x1="486.7" x2="486.7" y1="397.9" y2="402.2" stroke="#333" stroke-width="1.1"/>
<text transform="translate(481.8,410.8) rotate(45)" font-size="9.7" font-weight="bold" fill="#000">Day 2 TST</text>
<line x1="524.1" x2="524.1" y1="397.9" y2="402.2" stroke="#333" stroke-width="1.1"/>
<text transform="translate(519.2,410.8) rotate(45)" font-size="9.7" font-weight="bold" fill="#000">Day 7 TST</text>
<rect x="554.6" y="265.9" width="118.6" height="132" fill="#F5F5F5"/>
<clipPath id="clipB4"><rect x="554.6" y="265.9" width="118.6" height="132"/></clipPath>
<line x1="554.6" x2="673.2" y1="275.92" y2="275.92" stroke="#fff" stroke-width="0.6"/>
<line x1="554.6" x2="673.2" y1="302.77" y2="302.77" stroke="#fff" stroke-width="0.6"/>
<line x1="554.6" x2="673.2" y1="329.62" y2="329.62" stroke="#fff" stroke-width="0.6"/>
<line x1="554.6" x2="673.2" y1="356.47" y2="356.47" stroke="#fff" stroke-width="0.6"/>
<line x1="554.6" x2="673.2" y1="383.32" y2="383.32" stroke="#fff" stroke-width="0.6"/>
<line x1="554.6" x2="673.2" y1="289.35" y2="289.35" stroke="#fff" stroke-width="1.3"/>
<line x1="554.6" x2="673.2" y1="316.2" y2="316.2" stroke="#fff" stroke-width="1.3"/>
<line x1="554.6" x2="673.2" y1="343.05" y2="343.05" stroke="#fff" stroke-width="1.3"/>
<line x1="554.6" x2="673.2" y1="369.9" y2="369.9" stroke="#fff" stroke-width="1.3"/>
<line x1="554.6" x2="673.2" y1="396.75" y2="396.75" stroke="#fff" stroke-width="1.3"/>
<line x1="576.5" x2="576.5" y1="265.9" y2="397.9" stroke="#fff" stroke-width="1.3"/>
<line x1="613.7" x2="613.7" y1="265.9" y2="397.9" stroke="#fff" stroke-width="1.3"/>
<line x1="651" x2="651" y1="265.9" y2="397.9" stroke="#fff" stroke-width="1.3"/>
<rect x="554.6" y="244.3" width="118.6" height="21.6" fill="#E3E3E3" stroke="#000" stroke-width="1.6"/>
<text x="613.9" y="258.75" font-size="10" font-weight="bold" text-anchor="middle" fill="#000">Myeloid cells</text>
<path d="M576.2,308.5 V305.2 H613.7 V308.5" fill="none" stroke="#222" stroke-width="1.1" clip-path="url(#clipB4)"/>
<path d="M582.62,298.08 L583.21,300.17 L585.38,300.08 L583.58,301.29 L584.33,303.32 L582.62,301.98 L580.92,303.32 L581.67,301.29 L579.87,300.08 L582.04,300.17 Z M588.57,298.08 L589.16,300.17 L591.33,300.08 L589.53,301.29 L590.28,303.32 L588.57,301.98 L586.87,303.32 L587.62,301.29 L585.82,300.08 L587.99,300.17 Z M594.52,298.08 L595.11,300.17 L597.28,300.08 L595.48,301.29 L596.23,303.32 L594.52,301.98 L592.82,303.32 L593.57,301.29 L591.77,300.08 L593.94,300.17 Z M600.47,298.08 L601.06,300.17 L603.23,300.08 L601.43,301.29 L602.18,303.32 L600.47,301.98 L598.77,303.32 L599.52,301.29 L597.72,300.08 L599.89,300.17 Z" fill="#111" clip-path="url(#clipB4)"/>
<path d="M613.6,292.8 V289.5 H651.2 V292.8" fill="none" stroke="#222" stroke-width="1.1" clip-path="url(#clipB4)"/>
<path d="M631.4,282.58 L631.99,284.67 L634.16,284.58 L632.35,285.79 L633.1,287.82 L631.4,286.48 L629.7,287.82 L630.45,285.79 L628.64,284.58 L630.81,284.67 Z" fill="#111" clip-path="url(#clipB4)"/>
<g fill="#000" clip-path="url(#clipB4)">
<circle cx="574.5" cy="357.5" r="1.85"/>
<circle cx="575.9" cy="358.9" r="1.85"/>
<circle cx="574.1" cy="362.9" r="1.85"/>
<circle cx="576.6" cy="364" r="1.85"/>
<circle cx="579.2" cy="363.3" r="1.85"/>
<circle cx="575.2" cy="366.2" r="1.85"/>
<circle cx="578.8" cy="365.8" r="1.85"/>
<circle cx="573.4" cy="371.3" r="1.85"/>
<circle cx="575.9" cy="369.8" r="1.85"/>
<circle cx="579.9" cy="369.5" r="1.85"/>
<circle cx="574.1" cy="373.8" r="1.85"/>
<circle cx="578.5" cy="373.1" r="1.85"/>
<circle cx="580.6" cy="373.8" r="1.85"/>
<circle cx="575.2" cy="376" r="1.85"/>
<circle cx="579.2" cy="375.6" r="1.85"/>
<circle cx="577" cy="378.5" r="1.85"/>
<circle cx="577.5" cy="371.5" r="1.85"/>
<circle cx="574" cy="368.5" r="1.85"/>
</g>
<path d="M576.5,350 C576.44,350.85 576.69,353.42 576.14,355.1 C575.59,356.78 574.19,358.43 573.2,360.1 C572.21,361.77 571.22,363.75 570.2,365.1 C569.18,366.45 568.2,367.15 567.1,368.2 C566,369.25 563.6,370.32 563.6,371.4 C563.6,372.48 565.67,373.48 567.1,374.7 C568.53,375.92 570.69,377.35 572.2,378.7 C573.71,380.05 575.42,381.28 576.14,382.8 C576.86,384.32 576.44,386.97 576.5,387.8 L576.5,387.8 C576.56,386.97 576.14,384.32 576.86,382.8 C577.58,381.28 579.29,380.05 580.8,378.7 C582.31,377.35 584.47,375.92 585.9,374.7 C587.33,373.48 589.4,372.48 589.4,371.4 C589.4,370.32 587,369.25 585.9,368.2 C584.8,367.15 583.82,366.45 582.8,365.1 C581.78,363.75 580.79,361.77 579.8,360.1 C578.81,358.43 577.41,356.78 576.86,355.1 C576.31,353.42 576.56,350.85 576.5,350 Z" fill="none" stroke="#FF0000" stroke-width="1.6" stroke-linejoin="round" clip-path="url(#clipB4)"/>
<g fill="#000" clip-path="url(#clipB4)">
<circle cx="610.24" cy="314.49" r="1.85"/>
<circle cx="613.2" cy="313.76" r="1.85"/>
<circle cx="614.68" cy="314.08" r="1.85"/>
<circle cx="616.56" cy="313.55" r="1.85"/>
<circle cx="611.83" cy="315.95" r="1.85"/>
<circle cx="612.78" cy="315.83" r="1.85"/>
<circle cx="614.48" cy="316.28" r="1.85"/>
<circle cx="616.33" cy="316.39" r="1.85"/>
<circle cx="610.5" cy="317.9" r="1.85"/>
<circle cx="612.36" cy="317.78" r="1.85"/>
<circle cx="614.39" cy="318" r="1.85"/>
<circle cx="616.72" cy="317.59" r="1.85"/>
<circle cx="610.38" cy="319.29" r="1.85"/>
<circle cx="612.1" cy="319.4" r="1.85"/>
<circle cx="614.79" cy="319.63" r="1.85"/>
<circle cx="616.91" cy="319.08" r="1.85"/>
<circle cx="610.13" cy="320.88" r="1.85"/>
<circle cx="612.15" cy="320.61" r="1.85"/>
<circle cx="615.16" cy="321.26" r="1.85"/>
<circle cx="616.59" cy="320.86" r="1.85"/>
<circle cx="609.89" cy="322.87" r="1.85"/>
<circle cx="613.13" cy="323.06" r="1.85"/>
<circle cx="614.64" cy="323.07" r="1.85"/>
<circle cx="616.51" cy="323.07" r="1.85"/>
<circle cx="610.74" cy="324.68" r="1.85"/>
<circle cx="612.6" cy="324.72" r="1.85"/>
<circle cx="615.04" cy="324.05" r="1.85"/>
<circle cx="616.74" cy="324.52" r="1.85"/>
<circle cx="610.06" cy="326" r="1.85"/>
<circle cx="612.87" cy="326.35" r="1.85"/>
<circle cx="615.32" cy="326.43" r="1.85"/>
<circle cx="616.39" cy="326.09" r="1.85"/>
<circle cx="610.9" cy="327.38" r="1.85"/>
<circle cx="613.05" cy="328.29" r="1.85"/>
<circle cx="615.09" cy="328.32" r="1.85"/>
<circle cx="616.46" cy="327.96" r="1.85"/>
<circle cx="611.29" cy="329.17" r="1.85"/>
<circle cx="612.92" cy="329.69" r="1.85"/>
<circle cx="614.71" cy="328.88" r="1.85"/>
<circle cx="617.44" cy="329.7" r="1.85"/>
<circle cx="611.17" cy="330.94" r="1.85"/>
<circle cx="612.49" cy="331.02" r="1.85"/>
<circle cx="614.51" cy="330.94" r="1.85"/>
<circle cx="616.26" cy="330.72" r="1.85"/>
<circle cx="611.6" cy="332.3" r="1.85"/>
<circle cx="612.29" cy="332.86" r="1.85"/>
<circle cx="614.73" cy="333.2" r="1.85"/>
<circle cx="616.38" cy="332.96" r="1.85"/>
<circle cx="611.14" cy="334.07" r="1.85"/>
<circle cx="613.17" cy="334.42" r="1.85"/>
<circle cx="614.44" cy="334.38" r="1.85"/>
<circle cx="616.58" cy="335.06" r="1.85"/>
<circle cx="611" cy="336.61" r="1.85"/>
<circle cx="612.27" cy="336.74" r="1.85"/>
<circle cx="614.3" cy="336.16" r="1.85"/>
<circle cx="615.93" cy="336.67" r="1.85"/>
<circle cx="611.03" cy="338.47" r="1.85"/>
<circle cx="612.96" cy="337.64" r="1.85"/>
<circle cx="615.03" cy="337.81" r="1.85"/>
<circle cx="616.85" cy="337.67" r="1.85"/>
<circle cx="610.14" cy="339.22" r="1.85"/>
<circle cx="613.17" cy="340.06" r="1.85"/>
<circle cx="614.4" cy="339.18" r="1.85"/>
<circle cx="617.13" cy="339.97" r="1.85"/>
<circle cx="610.67" cy="341.07" r="1.85"/>
<circle cx="612.31" cy="341.4" r="1.85"/>
<circle cx="614.22" cy="341.8" r="1.85"/>
<circle cx="616.1" cy="341.86" r="1.85"/>
<circle cx="611.53" cy="342.5" r="1.85"/>
<circle cx="612.76" cy="342.83" r="1.85"/>
<circle cx="615.07" cy="343.14" r="1.85"/>
<circle cx="615.71" cy="342.75" r="1.85"/>
<circle cx="610.8" cy="342.4" r="1.85"/>
<circle cx="617.3" cy="341.8" r="1.85"/>
<circle cx="610.3" cy="351.2" r="1.85"/>
<circle cx="616.1" cy="350" r="1.85"/>
<circle cx="609.7" cy="358.8" r="1.85"/>
<circle cx="616.1" cy="357.7" r="1.85"/>
<circle cx="616.7" cy="362.4" r="1.85"/>
<circle cx="610.8" cy="365.3" r="1.85"/>
<circle cx="610.8" cy="368.3" r="1.85"/>
<circle cx="611.4" cy="374.2" r="1.85"/>
<circle cx="612" cy="378.9" r="1.85"/>
<circle cx="610.5" cy="347" r="1.85"/>
<circle cx="616.5" cy="346" r="1.85"/>
<circle cx="610.6" cy="349" r="1.85"/>
<circle cx="610.2" cy="353.5" r="1.85"/>
<circle cx="610" cy="356.2" r="1.85"/>
<circle cx="610.3" cy="361" r="1.85"/>
<circle cx="610.6" cy="363" r="1.85"/>
<circle cx="610.9" cy="370.5" r="1.85"/>
<circle cx="611.2" cy="372.3" r="1.85"/>
<circle cx="611.7" cy="376.5" r="1.85"/>
<circle cx="611.5" cy="345" r="1.85"/>
</g>
<path d="M613.7,309.1 C613.63,309.72 614.06,311.47 613.3,312.8 C612.53,314.13 610.55,315.48 609.1,317.1 C607.65,318.72 605.13,320.72 604.6,322.5 C604.07,324.28 605.07,325.85 605.9,327.8 C606.73,329.75 608.4,332.23 609.6,334.2 C610.8,336.17 612.45,337.82 613.07,339.6 C613.69,341.38 613.3,341.5 613.34,344.9 C613.38,348.3 613.24,353.07 613.3,360 C613.36,366.93 613.63,382.08 613.7,386.5 L613.7,386.5 C613.77,382.08 614.05,366.93 614.11,360 C614.16,353.07 614.02,348.3 614.06,344.9 C614.1,341.5 613.71,341.38 614.33,339.6 C614.95,337.82 616.61,336.17 617.8,334.2 C619,332.23 620.67,329.75 621.5,327.8 C622.33,325.85 623.33,324.28 622.8,322.5 C622.27,320.72 619.75,318.72 618.3,317.1 C616.85,315.48 614.87,314.13 614.11,312.8 C613.34,311.47 613.77,309.72 613.7,309.1 Z" fill="none" stroke="#FF0000" stroke-width="1.6" stroke-linejoin="round" clip-path="url(#clipB4)"/>
<g fill="#000" clip-path="url(#clipB4)">
<circle cx="647.86" cy="319.09" r="1.85"/>
<circle cx="649.89" cy="319.61" r="1.85"/>
<circle cx="652.23" cy="319.2" r="1.85"/>
<circle cx="654.21" cy="318.48" r="1.85"/>
<circle cx="648.68" cy="320.28" r="1.85"/>
<circle cx="650.29" cy="320.47" r="1.85"/>
<circle cx="651.96" cy="320.62" r="1.85"/>
<circle cx="654.64" cy="320.69" r="1.85"/>
<circle cx="647.37" cy="322.97" r="1.85"/>
<circle cx="649.86" cy="323.04" r="1.85"/>
<circle cx="651.82" cy="322.25" r="1.85"/>
<circle cx="654.42" cy="322.85" r="1.85"/>
<circle cx="647.78" cy="324.13" r="1.85"/>
<circle cx="649.86" cy="324.43" r="1.85"/>
<circle cx="651.75" cy="324.05" r="1.85"/>
<circle cx="653.23" cy="324.09" r="1.85"/>
<circle cx="648.45" cy="326.44" r="1.85"/>
<circle cx="650.15" cy="325.97" r="1.85"/>
<circle cx="652.61" cy="326.1" r="1.85"/>
<circle cx="654.39" cy="325.31" r="1.85"/>
<circle cx="648.03" cy="328.06" r="1.85"/>
<circle cx="649.39" cy="327.79" r="1.85"/>
<circle cx="652.44" cy="328.1" r="1.85"/>
<circle cx="654.13" cy="327.68" r="1.85"/>
<circle cx="647.92" cy="329.15" r="1.85"/>
<circle cx="649.67" cy="329.83" r="1.85"/>
<circle cx="652.68" cy="329.02" r="1.85"/>
<circle cx="654.37" cy="328.95" r="1.85"/>
<circle cx="648.66" cy="331.29" r="1.85"/>
<circle cx="649.66" cy="330.99" r="1.85"/>
<circle cx="652.24" cy="331.23" r="1.85"/>
<circle cx="653.88" cy="330.57" r="1.85"/>
<circle cx="648.07" cy="332.84" r="1.85"/>
<circle cx="650" cy="333.11" r="1.85"/>
<circle cx="651.72" cy="333.08" r="1.85"/>
<circle cx="653.97" cy="333.21" r="1.85"/>
<circle cx="647.58" cy="334.9" r="1.85"/>
<circle cx="650.13" cy="334.32" r="1.85"/>
<circle cx="652.33" cy="333.88" r="1.85"/>
<circle cx="654.22" cy="334.69" r="1.85"/>
<circle cx="648.92" cy="336.49" r="1.85"/>
<circle cx="650.27" cy="336.26" r="1.85"/>
<circle cx="652.3" cy="335.59" r="1.85"/>
<circle cx="654.27" cy="335.92" r="1.85"/>
<circle cx="647.59" cy="338.22" r="1.85"/>
<circle cx="650.39" cy="337.49" r="1.85"/>
<circle cx="651.66" cy="338.02" r="1.85"/>
<circle cx="653.54" cy="338.23" r="1.85"/>
<circle cx="647.4" cy="347.1" r="1.85"/>
<circle cx="652.7" cy="346.6" r="1.85"/>
<circle cx="649.3" cy="367.5" r="1.85"/>
<circle cx="649.8" cy="370.7" r="1.85"/>
<circle cx="647.6" cy="376.2" r="1.85"/>
<circle cx="649.3" cy="380.3" r="1.85"/>
</g>
<path d="M651,313.9 C650.94,314.53 651.26,316.5 650.64,317.7 C650.02,318.9 649.14,320.05 647.3,321.1 C645.46,322.15 641.82,323.08 639.6,324 C637.38,324.92 634,325.55 634,326.6 C634,327.65 637.53,329.13 639.6,330.3 C641.67,331.47 644.78,332.48 646.4,333.6 C648.02,334.72 648.59,335.78 649.3,337 C650.01,338.22 650.41,337.07 650.64,340.9 C650.87,344.73 650.62,352.72 650.68,360 C650.74,367.28 650.95,380.5 651,384.6 L651,384.6 C651.05,380.5 651.26,367.28 651.32,360 C651.38,352.72 651.13,344.73 651.36,340.9 C651.59,337.07 651.99,338.22 652.7,337 C653.41,335.78 653.98,334.72 655.6,333.6 C657.22,332.48 660.33,331.47 662.4,330.3 C664.47,329.13 668,327.65 668,326.6 C668,325.55 664.62,324.92 662.4,324 C660.18,323.08 656.54,322.15 654.7,321.1 C652.86,320.05 651.98,318.9 651.36,317.7 C650.74,316.5 651.06,314.53 651,313.9 Z" fill="none" stroke="#FF0000" stroke-width="1.6" stroke-linejoin="round" clip-path="url(#clipB4)"/>
<path d="M554.6,265.9 V397.9 H673.2 V265.9" fill="none" stroke="#333" stroke-width="1.1"/>
<line x1="554.6" x2="673.2" y1="265.9" y2="265.9" stroke="#000" stroke-width="1.6"/>
<line x1="576.5" x2="576.5" y1="397.9" y2="402.2" stroke="#333" stroke-width="1.1"/>
<text transform="translate(571.6,410.8) rotate(45)" font-size="9.7" font-weight="bold" fill="#000">Saline</text>
<line x1="613.7" x2="613.7" y1="397.9" y2="402.2" stroke="#333" stroke-width="1.1"/>
<text transform="translate(608.8,410.8) rotate(45)" font-size="9.7" font-weight="bold" fill="#000">Day 2 TST</text>
<line x1="651" x2="651" y1="397.9" y2="402.2" stroke="#333" stroke-width="1.1"/>
<text transform="translate(646.1,410.8) rotate(45)" font-size="9.7" font-weight="bold" fill="#000">Day 7 TST</text>
<line x1="42.1" x2="46" y1="289.35" y2="289.35" stroke="#333" stroke-width="1.1"/>
<text x="39.7" y="292.75" font-size="9.6" font-weight="bold" text-anchor="end" fill="#000">15</text>
<line x1="42.1" x2="46" y1="316.2" y2="316.2" stroke="#333" stroke-width="1.1"/>
<text x="39.7" y="319.6" font-size="9.6" font-weight="bold" text-anchor="end" fill="#000">10</text>
<line x1="42.1" x2="46" y1="343.05" y2="343.05" stroke="#333" stroke-width="1.1"/>
<text x="39.7" y="346.45" font-size="9.6" font-weight="bold" text-anchor="end" fill="#000">5</text>
<line x1="42.1" x2="46" y1="369.9" y2="369.9" stroke="#333" stroke-width="1.1"/>
<text x="39.7" y="373.3" font-size="9.6" font-weight="bold" text-anchor="end" fill="#000">0</text>
<line x1="42.1" x2="46" y1="396.75" y2="396.75" stroke="#333" stroke-width="1.1"/>
<text x="39.7" y="400.15" font-size="9.6" font-weight="bold" text-anchor="end" fill="#000">&#8722;5</text>
<text x="359.5" y="466.5" font-size="10" font-weight="bold" text-anchor="middle" fill="#000">Stimulation</text>
<text transform="translate(11.7,326.8) rotate(-90)" font-size="10" font-weight="bold" text-anchor="middle" fill="#000">Module Z score</text>
</svg>
</body></html>
